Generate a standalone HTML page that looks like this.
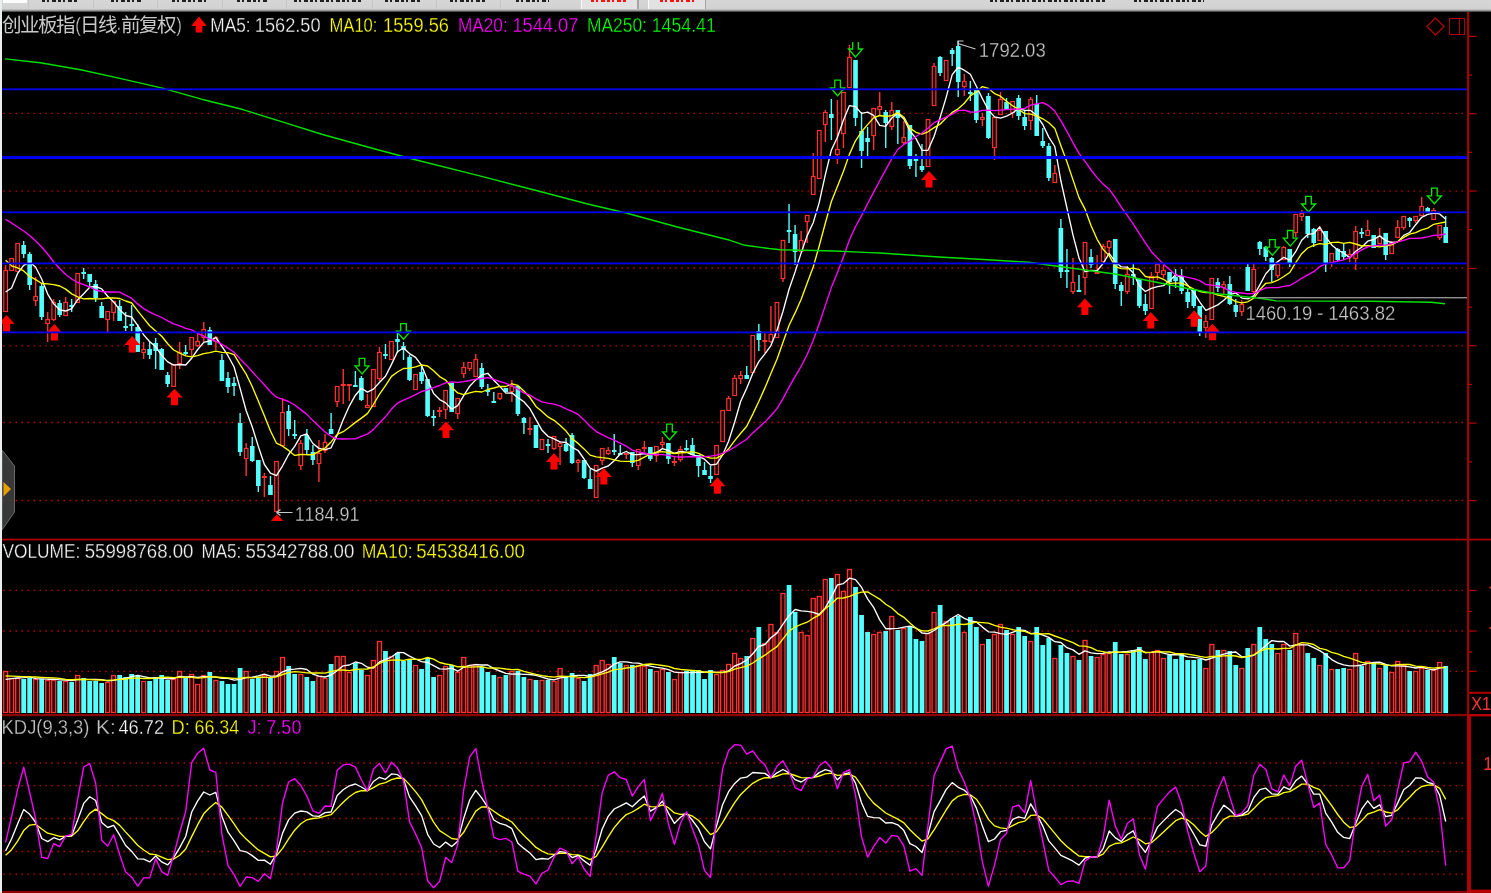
<!DOCTYPE html>
<html><head><meta charset="utf-8"><title>chart</title>
<style>html,body{margin:0;padding:0;background:#000;}
#wrap{position:relative;width:1491px;height:893px;overflow:hidden;background:#000;font-family:"Liberation Sans",sans-serif;}
#topbar{position:absolute;left:0;top:0;width:1491px;height:12.4px;background:linear-gradient(to bottom,#d6d6d6 0,#d2d2d2 9px,#808080 11px,#000 12.4px);}
#leftbar{position:absolute;left:0;top:0;width:2px;height:893px;background:#ebeeee;}
</style></head><body><div id="wrap">
<svg width="1491" height="893" viewBox="0 0 1491 893" style="position:absolute;left:0;top:0;filter:blur(0.35px)">
<rect x="0" y="0" width="1491" height="893" fill="#000"/>
<line x1="3.55" y1="113.4" x2="1466" y2="113.4" stroke="#dc0000" stroke-width="1.3" stroke-dasharray="1.3 4.7"/>
<line x1="3.55" y1="191.2" x2="1466" y2="191.2" stroke="#dc0000" stroke-width="1.3" stroke-dasharray="1.3 4.7"/>
<line x1="3.55" y1="268.0" x2="1466" y2="268.0" stroke="#dc0000" stroke-width="1.3" stroke-dasharray="1.3 4.7"/>
<line x1="3.55" y1="345.9" x2="1466" y2="345.9" stroke="#dc0000" stroke-width="1.3" stroke-dasharray="1.3 4.7"/>
<line x1="3.55" y1="422.5" x2="1466" y2="422.5" stroke="#dc0000" stroke-width="1.3" stroke-dasharray="1.3 4.7"/>
<line x1="3.55" y1="500.5" x2="1466" y2="500.5" stroke="#dc0000" stroke-width="1.3" stroke-dasharray="1.3 4.7"/>
<line x1="3.55" y1="590.4" x2="1466" y2="590.4" stroke="#dc0000" stroke-width="1.3" stroke-dasharray="1.3 4.7"/>
<line x1="3.55" y1="631" x2="1466" y2="631" stroke="#dc0000" stroke-width="1.3" stroke-dasharray="1.3 4.7"/>
<line x1="3.55" y1="671.3" x2="1466" y2="671.3" stroke="#dc0000" stroke-width="1.3" stroke-dasharray="1.3 4.7"/>
<line x1="3.55" y1="763" x2="1466" y2="763" stroke="#dc0000" stroke-width="1.3" stroke-dasharray="1.3 4.7"/>
<line x1="3.55" y1="785.6" x2="1466" y2="785.6" stroke="#dc0000" stroke-width="1.3" stroke-dasharray="1.3 4.7"/>
<line x1="3.55" y1="818.5" x2="1466" y2="818.5" stroke="#dc0000" stroke-width="1.3" stroke-dasharray="1.3 4.7"/>
<line x1="3.55" y1="851.5" x2="1466" y2="851.5" stroke="#dc0000" stroke-width="1.3" stroke-dasharray="1.3 4.7"/>
<line x1="3.55" y1="874.2" x2="1466" y2="874.2" stroke="#dc0000" stroke-width="1.3" stroke-dasharray="1.3 4.7"/>
<g>
<rect x="3.60" y="671.5" width="4" height="41" fill="#2a0707" stroke="#ff3232" stroke-width="1.3"/>
<rect x="9.63" y="678.5" width="4" height="34" fill="#2a0707" stroke="#ff3232" stroke-width="1.3"/>
<rect x="15.65" y="678.5" width="4" height="34" fill="#2a0707" stroke="#ff3232" stroke-width="1.3"/>
<rect x="21.30" y="679" width="4.76" height="34" fill="#54ffff"/>
<rect x="27.29" y="678" width="4.76" height="35" fill="#54ffff"/>
<rect x="33.67" y="679.5" width="4" height="33" fill="#2a0707" stroke="#ff3232" stroke-width="1.3"/>
<rect x="39.29" y="679" width="4.76" height="34" fill="#54ffff"/>
<rect x="45.67" y="680.5" width="4" height="32" fill="#2a0707" stroke="#ff3232" stroke-width="1.3"/>
<rect x="51.67" y="680.5" width="4" height="32" fill="#2a0707" stroke="#ff3232" stroke-width="1.3"/>
<rect x="57.29" y="681" width="4.76" height="32" fill="#54ffff"/>
<rect x="63.67" y="681.5" width="4" height="31" fill="#2a0707" stroke="#ff3232" stroke-width="1.3"/>
<rect x="69.29" y="682" width="4.76" height="31" fill="#54ffff"/>
<rect x="75.67" y="675.5" width="4" height="37" fill="#2a0707" stroke="#ff3232" stroke-width="1.3"/>
<rect x="81.29" y="678" width="4.76" height="35" fill="#54ffff"/>
<rect x="87.29" y="681" width="4.76" height="32" fill="#54ffff"/>
<rect x="93.29" y="681" width="4.76" height="32" fill="#54ffff"/>
<rect x="99.29" y="683" width="4.76" height="30" fill="#54ffff"/>
<rect x="105.66" y="682.5" width="4" height="30" fill="#2a0707" stroke="#ff3232" stroke-width="1.3"/>
<rect x="111.66" y="675.5" width="4" height="37" fill="#2a0707" stroke="#ff3232" stroke-width="1.3"/>
<rect x="117.28" y="675" width="4.76" height="38" fill="#54ffff"/>
<rect x="123.28" y="677" width="4.76" height="36" fill="#54ffff"/>
<rect x="129.28" y="674" width="4.76" height="39" fill="#54ffff"/>
<rect x="135.28" y="676" width="4.76" height="37" fill="#54ffff"/>
<rect x="141.66" y="681.5" width="4" height="31" fill="#2a0707" stroke="#ff3232" stroke-width="1.3"/>
<rect x="147.28" y="681" width="4.76" height="32" fill="#54ffff"/>
<rect x="153.28" y="677" width="4.76" height="36" fill="#54ffff"/>
<rect x="159.28" y="675" width="4.76" height="38" fill="#54ffff"/>
<rect x="165.28" y="680" width="4.76" height="33" fill="#54ffff"/>
<rect x="171.66" y="679.5" width="4" height="33" fill="#2a0707" stroke="#ff3232" stroke-width="1.3"/>
<rect x="177.66" y="671.5" width="4" height="41" fill="#2a0707" stroke="#ff3232" stroke-width="1.3"/>
<rect x="183.27" y="678" width="4.76" height="35" fill="#54ffff"/>
<rect x="189.65" y="674.5" width="4" height="38" fill="#2a0707" stroke="#ff3232" stroke-width="1.3"/>
<rect x="195.65" y="684.5" width="4" height="28" fill="#2a0707" stroke="#ff3232" stroke-width="1.3"/>
<rect x="201.72" y="675.5" width="4" height="37" fill="#2a0707" stroke="#ff3232" stroke-width="1.3"/>
<rect x="207.40" y="672" width="4.76" height="41" fill="#54ffff"/>
<rect x="213.85" y="680.5" width="4" height="32" fill="#2a0707" stroke="#ff3232" stroke-width="1.3"/>
<rect x="219.54" y="681" width="4.76" height="32" fill="#54ffff"/>
<rect x="225.60" y="684" width="4.76" height="29" fill="#54ffff"/>
<rect x="231.67" y="684" width="4.76" height="29" fill="#54ffff"/>
<rect x="237.73" y="668" width="4.76" height="45" fill="#54ffff"/>
<rect x="244.18" y="671.5" width="4" height="41" fill="#2a0707" stroke="#ff3232" stroke-width="1.3"/>
<rect x="249.86" y="679" width="4.76" height="34" fill="#54ffff"/>
<rect x="255.93" y="678" width="4.76" height="35" fill="#54ffff"/>
<rect x="262.37" y="675.5" width="4" height="37" fill="#2a0707" stroke="#ff3232" stroke-width="1.3"/>
<rect x="268.06" y="678" width="4.76" height="35" fill="#54ffff"/>
<rect x="274.50" y="671.5" width="4" height="41" fill="#2a0707" stroke="#ff3232" stroke-width="1.3"/>
<rect x="280.57" y="657.5" width="4" height="55" fill="#2a0707" stroke="#ff3232" stroke-width="1.3"/>
<rect x="286.26" y="666" width="4.76" height="47" fill="#54ffff"/>
<rect x="292.32" y="674" width="4.76" height="39" fill="#54ffff"/>
<rect x="298.77" y="674.5" width="4" height="38" fill="#2a0707" stroke="#ff3232" stroke-width="1.3"/>
<rect x="304.45" y="677" width="4.76" height="36" fill="#54ffff"/>
<rect x="310.52" y="681" width="4.76" height="32" fill="#54ffff"/>
<rect x="316.96" y="676.5" width="4" height="36" fill="#2a0707" stroke="#ff3232" stroke-width="1.3"/>
<rect x="323.03" y="678.5" width="4" height="34" fill="#2a0707" stroke="#ff3232" stroke-width="1.3"/>
<rect x="328.71" y="664" width="4.76" height="49" fill="#54ffff"/>
<rect x="335.16" y="656.5" width="4" height="56" fill="#2a0707" stroke="#ff3232" stroke-width="1.3"/>
<rect x="341.23" y="656.5" width="4" height="56" fill="#2a0707" stroke="#ff3232" stroke-width="1.3"/>
<rect x="347.29" y="672.5" width="4" height="40" fill="#2a0707" stroke="#ff3232" stroke-width="1.3"/>
<rect x="352.98" y="663" width="4.76" height="50" fill="#54ffff"/>
<rect x="359.00" y="670" width="4.76" height="43" fill="#54ffff"/>
<rect x="365.40" y="675.5" width="4" height="37" fill="#2a0707" stroke="#ff3232" stroke-width="1.3"/>
<rect x="371.42" y="660.5" width="4" height="52" fill="#2a0707" stroke="#ff3232" stroke-width="1.3"/>
<rect x="377.44" y="641.5" width="4" height="71" fill="#2a0707" stroke="#ff3232" stroke-width="1.3"/>
<rect x="383.08" y="651" width="4.76" height="62" fill="#54ffff"/>
<rect x="389.48" y="656.5" width="4" height="56" fill="#2a0707" stroke="#ff3232" stroke-width="1.3"/>
<rect x="395.12" y="653" width="4.76" height="60" fill="#54ffff"/>
<rect x="401.14" y="661" width="4.76" height="52" fill="#54ffff"/>
<rect x="407.16" y="659" width="4.76" height="54" fill="#54ffff"/>
<rect x="413.56" y="665.5" width="4" height="47" fill="#2a0707" stroke="#ff3232" stroke-width="1.3"/>
<rect x="419.20" y="669" width="4.76" height="44" fill="#54ffff"/>
<rect x="425.22" y="658" width="4.76" height="55" fill="#54ffff"/>
<rect x="431.24" y="677" width="4.76" height="36" fill="#54ffff"/>
<rect x="437.64" y="675.5" width="4" height="37" fill="#2a0707" stroke="#ff3232" stroke-width="1.3"/>
<rect x="443.66" y="666.5" width="4" height="46" fill="#2a0707" stroke="#ff3232" stroke-width="1.3"/>
<rect x="449.30" y="665" width="4.76" height="48" fill="#54ffff"/>
<rect x="455.70" y="672.5" width="4" height="40" fill="#2a0707" stroke="#ff3232" stroke-width="1.3"/>
<rect x="461.72" y="657.5" width="4" height="55" fill="#2a0707" stroke="#ff3232" stroke-width="1.3"/>
<rect x="467.74" y="665.5" width="4" height="47" fill="#2a0707" stroke="#ff3232" stroke-width="1.3"/>
<rect x="473.76" y="664.5" width="4" height="48" fill="#2a0707" stroke="#ff3232" stroke-width="1.3"/>
<rect x="479.40" y="667" width="4.76" height="46" fill="#54ffff"/>
<rect x="485.42" y="672" width="4.76" height="41" fill="#54ffff"/>
<rect x="491.44" y="675" width="4.76" height="38" fill="#54ffff"/>
<rect x="497.84" y="677.5" width="4" height="35" fill="#2a0707" stroke="#ff3232" stroke-width="1.3"/>
<rect x="503.48" y="675" width="4.76" height="38" fill="#54ffff"/>
<rect x="509.88" y="671.5" width="4" height="41" fill="#2a0707" stroke="#ff3232" stroke-width="1.3"/>
<rect x="515.52" y="671" width="4.76" height="42" fill="#54ffff"/>
<rect x="521.54" y="677" width="4.76" height="36" fill="#54ffff"/>
<rect x="527.94" y="679.5" width="4" height="33" fill="#2a0707" stroke="#ff3232" stroke-width="1.3"/>
<rect x="533.58" y="680" width="4.76" height="33" fill="#54ffff"/>
<rect x="539.98" y="680.5" width="4" height="32" fill="#2a0707" stroke="#ff3232" stroke-width="1.3"/>
<rect x="545.62" y="680" width="4.76" height="33" fill="#54ffff"/>
<rect x="552.02" y="681.5" width="4" height="31" fill="#2a0707" stroke="#ff3232" stroke-width="1.3"/>
<rect x="558.05" y="668.5" width="4" height="44" fill="#2a0707" stroke="#ff3232" stroke-width="1.3"/>
<rect x="563.69" y="677" width="4.76" height="36" fill="#54ffff"/>
<rect x="569.71" y="673" width="4.76" height="40" fill="#54ffff"/>
<rect x="576.11" y="678.5" width="4" height="34" fill="#2a0707" stroke="#ff3232" stroke-width="1.3"/>
<rect x="581.75" y="681" width="4.76" height="32" fill="#54ffff"/>
<rect x="587.77" y="674" width="4.76" height="39" fill="#54ffff"/>
<rect x="594.17" y="665.5" width="4" height="47" fill="#2a0707" stroke="#ff3232" stroke-width="1.3"/>
<rect x="600.19" y="660.5" width="4" height="52" fill="#2a0707" stroke="#ff3232" stroke-width="1.3"/>
<rect x="606.21" y="664.5" width="4" height="48" fill="#2a0707" stroke="#ff3232" stroke-width="1.3"/>
<rect x="611.85" y="657" width="4.76" height="56" fill="#54ffff"/>
<rect x="617.87" y="663" width="4.76" height="50" fill="#54ffff"/>
<rect x="624.27" y="665.5" width="4" height="47" fill="#2a0707" stroke="#ff3232" stroke-width="1.3"/>
<rect x="629.91" y="665" width="4.76" height="48" fill="#54ffff"/>
<rect x="636.31" y="665.5" width="4" height="47" fill="#2a0707" stroke="#ff3232" stroke-width="1.3"/>
<rect x="642.33" y="666.5" width="4" height="46" fill="#2a0707" stroke="#ff3232" stroke-width="1.3"/>
<rect x="647.97" y="669" width="4.76" height="44" fill="#54ffff"/>
<rect x="654.37" y="671.5" width="4" height="41" fill="#2a0707" stroke="#ff3232" stroke-width="1.3"/>
<rect x="660.39" y="669.5" width="4" height="43" fill="#2a0707" stroke="#ff3232" stroke-width="1.3"/>
<rect x="666.03" y="672" width="4.76" height="41" fill="#54ffff"/>
<rect x="672.43" y="679.5" width="4" height="33" fill="#2a0707" stroke="#ff3232" stroke-width="1.3"/>
<rect x="678.45" y="672.5" width="4" height="40" fill="#2a0707" stroke="#ff3232" stroke-width="1.3"/>
<rect x="684.09" y="671" width="4.76" height="42" fill="#54ffff"/>
<rect x="690.11" y="670" width="4.76" height="43" fill="#54ffff"/>
<rect x="696.13" y="670" width="4.76" height="43" fill="#54ffff"/>
<rect x="702.15" y="679" width="4.76" height="34" fill="#54ffff"/>
<rect x="708.17" y="670" width="4.76" height="43" fill="#54ffff"/>
<rect x="714.57" y="674.5" width="4" height="38" fill="#2a0707" stroke="#ff3232" stroke-width="1.3"/>
<rect x="720.59" y="670.5" width="4" height="42" fill="#2a0707" stroke="#ff3232" stroke-width="1.3"/>
<rect x="726.61" y="664.5" width="4" height="48" fill="#2a0707" stroke="#ff3232" stroke-width="1.3"/>
<rect x="732.66" y="653.5" width="4" height="59" fill="#2a0707" stroke="#ff3232" stroke-width="1.3"/>
<rect x="738.70" y="658.5" width="4" height="54" fill="#2a0707" stroke="#ff3232" stroke-width="1.3"/>
<rect x="744.36" y="656" width="4.76" height="57" fill="#54ffff"/>
<rect x="750.78" y="638.5" width="4" height="74" fill="#2a0707" stroke="#ff3232" stroke-width="1.3"/>
<rect x="756.45" y="627" width="4.76" height="86" fill="#54ffff"/>
<rect x="762.87" y="643.5" width="4" height="69" fill="#2a0707" stroke="#ff3232" stroke-width="1.3"/>
<rect x="768.91" y="624.5" width="4" height="88" fill="#2a0707" stroke="#ff3232" stroke-width="1.3"/>
<rect x="774.95" y="632.5" width="4" height="80" fill="#2a0707" stroke="#ff3232" stroke-width="1.3"/>
<rect x="781.00" y="593.5" width="4" height="119" fill="#2a0707" stroke="#ff3232" stroke-width="1.3"/>
<rect x="786.66" y="585" width="4.76" height="128" fill="#54ffff"/>
<rect x="792.70" y="612" width="4.76" height="101" fill="#54ffff"/>
<rect x="799.12" y="632.5" width="4" height="80" fill="#2a0707" stroke="#ff3232" stroke-width="1.3"/>
<rect x="805.17" y="635.5" width="4" height="77" fill="#2a0707" stroke="#ff3232" stroke-width="1.3"/>
<rect x="811.21" y="598.5" width="4" height="114" fill="#2a0707" stroke="#ff3232" stroke-width="1.3"/>
<rect x="817.25" y="596.5" width="4" height="116" fill="#2a0707" stroke="#ff3232" stroke-width="1.3"/>
<rect x="823.29" y="579.5" width="4" height="133" fill="#2a0707" stroke="#ff3232" stroke-width="1.3"/>
<rect x="828.96" y="578" width="4.76" height="135" fill="#54ffff"/>
<rect x="835.38" y="574.5" width="4" height="138" fill="#2a0707" stroke="#ff3232" stroke-width="1.3"/>
<rect x="841.42" y="591.5" width="4" height="121" fill="#2a0707" stroke="#ff3232" stroke-width="1.3"/>
<rect x="847.46" y="569.5" width="4" height="143" fill="#2a0707" stroke="#ff3232" stroke-width="1.3"/>
<rect x="853.13" y="587" width="4.76" height="126" fill="#54ffff"/>
<rect x="859.17" y="615" width="4.76" height="98" fill="#54ffff"/>
<rect x="865.21" y="632" width="4.76" height="81" fill="#54ffff"/>
<rect x="871.64" y="634.5" width="4" height="78" fill="#2a0707" stroke="#ff3232" stroke-width="1.3"/>
<rect x="877.68" y="632.5" width="4" height="80" fill="#2a0707" stroke="#ff3232" stroke-width="1.3"/>
<rect x="883.34" y="631" width="4.76" height="82" fill="#54ffff"/>
<rect x="889.76" y="616.5" width="4" height="96" fill="#2a0707" stroke="#ff3232" stroke-width="1.3"/>
<rect x="895.43" y="630" width="4.76" height="83" fill="#54ffff"/>
<rect x="901.85" y="628.5" width="4" height="84" fill="#2a0707" stroke="#ff3232" stroke-width="1.3"/>
<rect x="907.51" y="627" width="4.76" height="86" fill="#54ffff"/>
<rect x="913.55" y="639" width="4.76" height="74" fill="#54ffff"/>
<rect x="919.60" y="641" width="4.76" height="72" fill="#54ffff"/>
<rect x="926.02" y="633.5" width="4" height="79" fill="#2a0707" stroke="#ff3232" stroke-width="1.3"/>
<rect x="932.06" y="612.5" width="4" height="100" fill="#2a0707" stroke="#ff3232" stroke-width="1.3"/>
<rect x="937.72" y="605" width="4.76" height="108" fill="#54ffff"/>
<rect x="944.15" y="621.5" width="4" height="91" fill="#2a0707" stroke="#ff3232" stroke-width="1.3"/>
<rect x="949.81" y="618" width="4.76" height="95" fill="#54ffff"/>
<rect x="955.85" y="616" width="4.76" height="97" fill="#54ffff"/>
<rect x="962.27" y="632.5" width="4" height="80" fill="#2a0707" stroke="#ff3232" stroke-width="1.3"/>
<rect x="967.94" y="617" width="4.76" height="96" fill="#54ffff"/>
<rect x="973.97" y="627" width="4.76" height="86" fill="#54ffff"/>
<rect x="980.39" y="644.5" width="4" height="68" fill="#2a0707" stroke="#ff3232" stroke-width="1.3"/>
<rect x="986.05" y="639" width="4.76" height="74" fill="#54ffff"/>
<rect x="992.47" y="634.5" width="4" height="78" fill="#2a0707" stroke="#ff3232" stroke-width="1.3"/>
<rect x="998.50" y="624.5" width="4" height="88" fill="#2a0707" stroke="#ff3232" stroke-width="1.3"/>
<rect x="1004.16" y="630" width="4.76" height="83" fill="#54ffff"/>
<rect x="1010.58" y="634.5" width="4" height="78" fill="#2a0707" stroke="#ff3232" stroke-width="1.3"/>
<rect x="1016.24" y="627" width="4.76" height="86" fill="#54ffff"/>
<rect x="1022.28" y="636" width="4.76" height="77" fill="#54ffff"/>
<rect x="1028.69" y="641.5" width="4" height="71" fill="#2a0707" stroke="#ff3232" stroke-width="1.3"/>
<rect x="1034.35" y="627" width="4.76" height="86" fill="#54ffff"/>
<rect x="1040.39" y="645" width="4.76" height="68" fill="#54ffff"/>
<rect x="1046.43" y="638" width="4.76" height="75" fill="#54ffff"/>
<rect x="1052.84" y="658.5" width="4" height="54" fill="#2a0707" stroke="#ff3232" stroke-width="1.3"/>
<rect x="1058.50" y="645" width="4.76" height="68" fill="#54ffff"/>
<rect x="1064.54" y="653" width="4.76" height="60" fill="#54ffff"/>
<rect x="1070.96" y="656.5" width="4" height="56" fill="#2a0707" stroke="#ff3232" stroke-width="1.3"/>
<rect x="1076.61" y="660" width="4.76" height="53" fill="#54ffff"/>
<rect x="1083.03" y="640.5" width="4" height="72" fill="#2a0707" stroke="#ff3232" stroke-width="1.3"/>
<rect x="1088.69" y="656" width="4.76" height="57" fill="#54ffff"/>
<rect x="1095.11" y="657.5" width="4" height="55" fill="#2a0707" stroke="#ff3232" stroke-width="1.3"/>
<rect x="1101.14" y="654.5" width="4" height="58" fill="#2a0707" stroke="#ff3232" stroke-width="1.3"/>
<rect x="1107.18" y="653.5" width="4" height="59" fill="#2a0707" stroke="#ff3232" stroke-width="1.3"/>
<rect x="1112.84" y="642" width="4.76" height="71" fill="#54ffff"/>
<rect x="1118.88" y="654" width="4.76" height="59" fill="#54ffff"/>
<rect x="1125.29" y="654.5" width="4" height="58" fill="#2a0707" stroke="#ff3232" stroke-width="1.3"/>
<rect x="1130.95" y="650" width="4.76" height="63" fill="#54ffff"/>
<rect x="1136.99" y="647" width="4.76" height="66" fill="#54ffff"/>
<rect x="1143.03" y="659" width="4.76" height="54" fill="#54ffff"/>
<rect x="1149.44" y="652.5" width="4" height="60" fill="#2a0707" stroke="#ff3232" stroke-width="1.3"/>
<rect x="1155.48" y="650.5" width="4" height="62" fill="#2a0707" stroke="#ff3232" stroke-width="1.3"/>
<rect x="1161.52" y="658.5" width="4" height="54" fill="#2a0707" stroke="#ff3232" stroke-width="1.3"/>
<rect x="1167.18" y="655" width="4.76" height="58" fill="#54ffff"/>
<rect x="1173.22" y="659" width="4.76" height="54" fill="#54ffff"/>
<rect x="1179.25" y="654" width="4.76" height="59" fill="#54ffff"/>
<rect x="1185.29" y="660" width="4.76" height="53" fill="#54ffff"/>
<rect x="1191.33" y="660" width="4.76" height="53" fill="#54ffff"/>
<rect x="1197.37" y="659" width="4.76" height="54" fill="#54ffff"/>
<rect x="1203.78" y="668.5" width="4" height="44" fill="#2a0707" stroke="#ff3232" stroke-width="1.3"/>
<rect x="1209.82" y="644.5" width="4" height="68" fill="#2a0707" stroke="#ff3232" stroke-width="1.3"/>
<rect x="1215.44" y="650" width="4.76" height="63" fill="#54ffff"/>
<rect x="1221.81" y="650.5" width="4" height="62" fill="#2a0707" stroke="#ff3232" stroke-width="1.3"/>
<rect x="1227.42" y="651" width="4.76" height="62" fill="#54ffff"/>
<rect x="1233.42" y="665" width="4.76" height="48" fill="#54ffff"/>
<rect x="1239.79" y="668.5" width="4" height="44" fill="#2a0707" stroke="#ff3232" stroke-width="1.3"/>
<rect x="1245.41" y="648" width="4.76" height="65" fill="#54ffff"/>
<rect x="1251.78" y="644.5" width="4" height="68" fill="#2a0707" stroke="#ff3232" stroke-width="1.3"/>
<rect x="1257.40" y="627" width="4.76" height="86" fill="#54ffff"/>
<rect x="1263.39" y="639" width="4.76" height="74" fill="#54ffff"/>
<rect x="1269.38" y="644" width="4.76" height="69" fill="#54ffff"/>
<rect x="1275.76" y="653.5" width="4" height="59" fill="#2a0707" stroke="#ff3232" stroke-width="1.3"/>
<rect x="1281.75" y="644.5" width="4" height="68" fill="#2a0707" stroke="#ff3232" stroke-width="1.3"/>
<rect x="1287.37" y="650" width="4.76" height="63" fill="#54ffff"/>
<rect x="1293.74" y="633.5" width="4" height="79" fill="#2a0707" stroke="#ff3232" stroke-width="1.3"/>
<rect x="1299.74" y="644.5" width="4" height="68" fill="#2a0707" stroke="#ff3232" stroke-width="1.3"/>
<rect x="1305.35" y="653" width="4.76" height="60" fill="#54ffff"/>
<rect x="1311.34" y="658" width="4.76" height="55" fill="#54ffff"/>
<rect x="1317.72" y="665.5" width="4" height="47" fill="#2a0707" stroke="#ff3232" stroke-width="1.3"/>
<rect x="1323.33" y="653" width="4.76" height="60" fill="#54ffff"/>
<rect x="1329.71" y="669.5" width="4" height="43" fill="#2a0707" stroke="#ff3232" stroke-width="1.3"/>
<rect x="1335.32" y="669" width="4.76" height="44" fill="#54ffff"/>
<rect x="1341.32" y="668" width="4.76" height="45" fill="#54ffff"/>
<rect x="1347.69" y="669.5" width="4" height="43" fill="#2a0707" stroke="#ff3232" stroke-width="1.3"/>
<rect x="1353.68" y="653.5" width="4" height="59" fill="#2a0707" stroke="#ff3232" stroke-width="1.3"/>
<rect x="1359.30" y="666" width="4.76" height="47" fill="#54ffff"/>
<rect x="1365.67" y="661.5" width="4" height="51" fill="#2a0707" stroke="#ff3232" stroke-width="1.3"/>
<rect x="1371.30" y="663" width="4.76" height="50" fill="#54ffff"/>
<rect x="1377.68" y="668.5" width="4" height="44" fill="#2a0707" stroke="#ff3232" stroke-width="1.3"/>
<rect x="1383.30" y="665" width="4.76" height="48" fill="#54ffff"/>
<rect x="1389.68" y="672.5" width="4" height="40" fill="#2a0707" stroke="#ff3232" stroke-width="1.3"/>
<rect x="1395.68" y="661.5" width="4" height="51" fill="#2a0707" stroke="#ff3232" stroke-width="1.3"/>
<rect x="1401.69" y="665.5" width="4" height="47" fill="#2a0707" stroke="#ff3232" stroke-width="1.3"/>
<rect x="1407.31" y="671" width="4.76" height="42" fill="#54ffff"/>
<rect x="1413.69" y="671.5" width="4" height="41" fill="#2a0707" stroke="#ff3232" stroke-width="1.3"/>
<rect x="1419.69" y="668.5" width="4" height="44" fill="#2a0707" stroke="#ff3232" stroke-width="1.3"/>
<rect x="1425.31" y="670" width="4.76" height="43" fill="#54ffff"/>
<rect x="1431.70" y="670.5" width="4" height="42" fill="#2a0707" stroke="#ff3232" stroke-width="1.3"/>
<rect x="1437.70" y="662.5" width="4" height="50" fill="#2a0707" stroke="#ff3232" stroke-width="1.3"/>
<rect x="1443.32" y="666" width="4.76" height="47" fill="#54ffff"/>
</g>
<polyline points="5.6,679.4 11.6,678.7 17.6,678.0 23.7,677.6 29.7,676.9 35.7,678.6 41.7,678.8 47.7,679.2 53.7,679.2 59.7,679.8 65.7,680.0 71.7,680.6 77.7,679.7 83.7,679.4 89.7,679.4 95.7,679.5 101.7,679.6 107.7,680.9 113.7,680.3 119.7,679.2 125.7,678.4 131.7,676.6 137.7,675.4 143.7,676.6 149.7,677.8 155.7,677.8 161.7,678.0 167.7,678.9 173.7,678.5 179.7,676.5 185.7,676.8 191.7,676.6 197.7,677.4 203.7,676.6 209.8,676.8 215.8,677.1 221.9,678.4 228.0,678.4 234.1,680.2 240.1,679.3 246.2,677.6 252.2,677.2 258.3,675.9 264.4,674.1 270.4,676.1 276.5,676.1 282.6,671.8 288.6,669.5 294.7,669.2 300.8,668.4 306.8,669.5 312.9,674.2 319.0,676.1 325.0,677.0 331.1,675.0 337.2,670.8 343.2,665.8 349.3,665.0 355.4,662.0 361.4,663.3 367.4,667.2 373.4,668.1 379.4,662.0 385.5,659.7 391.5,657.0 397.5,652.5 403.5,652.6 409.5,656.2 415.6,659.0 421.6,661.6 427.6,662.5 433.6,665.7 439.6,668.8 445.7,669.1 451.7,668.2 457.7,671.2 463.7,667.3 469.7,665.3 475.8,664.7 481.8,665.0 487.8,665.0 493.8,668.6 499.8,671.0 505.9,673.4 511.9,674.2 517.9,673.9 523.9,674.3 529.9,674.5 536.0,675.4 542.0,677.2 548.0,679.0 554.0,679.8 560.0,677.8 566.1,677.2 572.1,675.8 578.1,675.3 584.1,675.3 590.1,676.5 596.2,674.2 602.2,671.8 608.2,668.9 614.2,664.2 620.2,661.8 626.3,661.8 632.3,662.8 638.3,663.1 644.3,664.8 650.4,666.2 656.4,667.3 662.4,668.2 668.4,669.6 674.4,672.1 680.5,672.6 686.5,672.6 692.5,672.7 698.5,672.2 704.5,672.2 710.5,671.8 716.6,672.3 722.6,672.3 728.6,671.0 734.7,666.0 740.7,663.6 746.7,660.0 752.8,653.7 758.8,646.5 764.9,644.5 770.9,637.8 777.0,633.1 783.0,624.1 789.0,615.7 795.1,609.5 801.1,610.9 807.2,611.4 813.2,612.3 819.2,614.5 825.3,607.9 831.3,597.2 837.4,584.9 843.4,583.6 849.5,578.2 855.5,579.7 861.5,587.2 867.6,598.9 873.6,607.3 879.7,619.9 885.7,628.7 891.8,628.7 897.8,628.3 903.9,627.2 909.9,626.2 915.9,628.0 922.0,633.0 928.0,633.7 934.1,630.5 940.1,626.2 946.1,622.6 952.2,618.0 958.2,614.5 964.3,618.4 970.3,620.8 976.4,621.9 982.4,627.1 988.4,631.8 994.5,632.2 1000.5,633.7 1006.5,634.4 1012.6,632.3 1018.6,629.9 1024.7,630.4 1030.7,633.6 1036.7,633.0 1042.8,635.2 1048.8,637.4 1054.8,641.7 1060.9,642.5 1066.9,647.7 1073.0,649.9 1079.0,654.3 1085.0,650.8 1091.1,652.8 1097.1,653.7 1103.1,653.3 1109.2,651.8 1115.2,652.4 1121.3,652.0 1127.3,651.4 1133.3,650.6 1139.4,649.4 1145.4,652.7 1151.4,652.3 1157.5,651.6 1163.5,653.1 1169.6,654.7 1175.6,654.7 1181.6,655.0 1187.7,656.9 1193.7,657.4 1199.8,658.2 1205.8,660.0 1211.8,658.1 1217.8,656.2 1223.8,654.2 1229.8,652.7 1235.8,652.0 1241.8,656.8 1247.8,656.5 1253.8,655.3 1259.8,650.4 1265.8,645.4 1271.8,640.6 1277.8,641.5 1283.8,641.5 1289.8,646.1 1295.7,644.9 1301.7,644.9 1307.7,644.9 1313.7,647.6 1319.7,650.6 1325.7,654.5 1331.7,659.6 1337.7,662.9 1343.7,664.9 1349.7,665.8 1355.7,665.8 1361.7,665.0 1367.7,663.3 1373.7,662.3 1379.7,662.1 1385.7,664.5 1391.7,665.8 1397.7,665.8 1403.7,666.2 1409.7,666.8 1415.7,668.0 1421.7,667.1 1427.7,668.9 1433.7,669.9 1439.7,668.1 1445.7,667.2" fill="none" stroke="#ffffff" stroke-width="1.35" stroke-linejoin="round" />
<polyline points="5.6,676.0 11.6,676.2 17.6,676.3 23.7,676.6 29.7,676.8 35.7,677.0 41.7,677.3 47.7,677.6 53.7,677.9 59.7,678.4 65.7,679.3 71.7,679.7 77.7,679.5 83.7,679.3 89.7,679.6 95.7,679.8 101.7,680.1 107.7,680.3 113.7,679.9 119.7,679.3 125.7,679.0 131.7,678.1 137.7,678.2 143.7,678.5 149.7,678.5 155.7,678.1 161.7,677.3 167.7,677.1 173.7,677.6 179.7,677.1 185.7,677.3 191.7,677.3 197.7,678.1 203.7,677.6 209.8,676.7 215.8,677.0 221.9,677.5 228.0,677.9 234.1,678.4 240.1,678.1 246.2,677.4 252.2,677.8 258.3,677.2 264.4,677.2 270.4,677.7 276.5,676.8 282.6,674.5 288.6,672.7 294.7,671.6 300.8,672.2 306.8,672.8 312.9,673.0 319.0,672.8 325.0,673.1 331.1,671.7 337.2,670.2 343.2,670.0 349.3,670.6 355.4,669.5 361.4,669.1 367.4,669.0 373.4,667.0 379.4,663.5 385.5,660.9 391.5,660.1 397.5,659.9 403.5,660.4 409.5,659.1 415.6,659.4 421.6,659.3 427.6,657.5 433.6,659.1 439.6,662.5 445.7,664.0 451.7,664.9 457.7,666.8 463.7,666.5 469.7,667.1 475.8,666.9 481.8,666.6 487.8,668.1 493.8,668.0 499.8,668.1 505.9,669.0 511.9,669.6 517.9,669.5 523.9,671.4 529.9,672.8 536.0,674.4 542.0,675.7 548.0,676.5 554.0,677.1 560.0,676.1 566.1,676.3 572.1,676.5 578.1,677.2 584.1,677.6 590.1,677.1 596.2,675.7 602.2,673.8 608.2,672.1 614.2,669.7 620.2,669.2 626.3,668.0 632.3,667.3 638.3,666.0 644.3,664.5 650.4,664.0 656.4,664.6 662.4,665.5 668.4,666.4 674.4,668.5 680.5,669.4 686.5,670.0 692.5,670.5 698.5,670.9 704.5,672.2 710.5,672.2 716.6,672.5 722.6,672.5 728.6,671.6 734.7,669.1 740.7,667.7 746.7,666.2 752.8,663.0 758.8,658.8 764.9,655.2 770.9,650.7 777.0,646.6 783.0,638.9 789.0,631.1 795.1,627.0 801.1,624.4 807.2,622.2 813.2,618.2 819.2,615.1 825.3,608.7 831.3,604.0 837.4,598.1 843.4,598.0 849.5,596.3 855.5,593.8 861.5,592.2 867.6,591.9 873.6,595.5 879.7,599.1 885.7,604.2 891.8,608.0 897.8,613.6 903.9,617.3 909.9,623.1 915.9,628.3 922.0,630.9 928.0,631.0 934.1,628.9 940.1,626.2 946.1,625.3 952.2,625.5 958.2,624.1 964.3,624.5 970.3,623.5 976.4,622.2 982.4,622.6 988.4,623.2 994.5,625.3 1000.5,627.2 1006.5,628.1 1012.6,629.7 1018.6,630.8 1024.7,631.3 1030.7,633.7 1036.7,633.7 1042.8,633.8 1048.8,633.6 1054.8,636.0 1060.9,638.1 1066.9,640.3 1073.0,642.6 1079.0,645.9 1085.0,646.2 1091.1,647.7 1097.1,650.7 1103.1,651.6 1109.2,653.1 1115.2,651.6 1121.3,652.4 1127.3,652.5 1133.3,651.9 1139.4,650.6 1145.4,652.5 1151.4,652.2 1157.5,651.5 1163.5,651.8 1169.6,652.0 1175.6,653.7 1181.6,653.7 1187.7,654.2 1193.7,655.2 1199.8,656.4 1205.8,657.4 1211.8,656.5 1217.8,656.5 1223.8,655.8 1229.8,655.5 1235.8,656.0 1241.8,657.5 1247.8,656.3 1253.8,654.8 1259.8,651.6 1265.8,648.7 1271.8,648.7 1277.8,649.0 1283.8,648.4 1289.8,648.3 1295.7,645.1 1301.7,642.7 1307.7,643.2 1313.7,644.5 1319.7,648.4 1325.7,649.7 1331.7,652.3 1337.7,653.9 1343.7,656.3 1349.7,658.2 1355.7,660.2 1361.7,662.3 1367.7,663.1 1373.7,663.6 1379.7,663.9 1385.7,665.1 1391.7,665.4 1397.7,664.6 1403.7,664.3 1409.7,664.5 1415.7,666.2 1421.7,666.5 1427.7,667.4 1433.7,668.1 1439.7,667.5 1445.7,667.6" fill="none" stroke="#ffff00" stroke-width="1.35" stroke-linejoin="round" />
<g>
<rect x="4.90" y="265" width="1.4" height="5" fill="#ff3232"/>
<rect x="3.80" y="270.5" width="3.6" height="41" fill="#0c0000" stroke="#ff3232" stroke-width="1.2"/>
<rect x="9.83" y="258.5" width="3.6" height="12" fill="#0c0000" stroke="#ff3232" stroke-width="1.2"/>
<rect x="15.85" y="243.5" width="3.6" height="28" fill="#0c0000" stroke="#ff3232" stroke-width="1.2"/>
<rect x="22.98" y="241" width="1.4" height="17" fill="#54ffff"/>
<rect x="21.38" y="245" width="4.6" height="9" fill="#54ffff"/>
<rect x="28.97" y="252" width="1.4" height="38" fill="#54ffff"/>
<rect x="27.37" y="254" width="4.6" height="31" fill="#54ffff"/>
<rect x="34.97" y="277" width="1.4" height="19" fill="#ff3232"/>
<rect x="34.97" y="301" width="1.4" height="5" fill="#ff3232"/>
<rect x="33.87" y="296.5" width="3.6" height="4" fill="#0c0000" stroke="#ff3232" stroke-width="1.2"/>
<rect x="40.97" y="283" width="1.4" height="37" fill="#54ffff"/>
<rect x="39.37" y="286" width="4.6" height="31" fill="#54ffff"/>
<rect x="46.97" y="312" width="1.4" height="7" fill="#ff3232"/>
<rect x="46.97" y="324" width="1.4" height="18" fill="#ff3232"/>
<rect x="45.87" y="319.5" width="3.6" height="4" fill="#0c0000" stroke="#ff3232" stroke-width="1.2"/>
<rect x="52.97" y="299" width="1.4" height="3" fill="#ff3232"/>
<rect x="52.97" y="320" width="1.4" height="1" fill="#ff3232"/>
<rect x="51.87" y="302.5" width="3.6" height="17" fill="#0c0000" stroke="#ff3232" stroke-width="1.2"/>
<rect x="58.97" y="300" width="1.4" height="17" fill="#54ffff"/>
<rect x="57.37" y="303" width="4.6" height="12" fill="#54ffff"/>
<rect x="64.97" y="297" width="1.4" height="5" fill="#ff3232"/>
<rect x="63.87" y="302.5" width="3.6" height="13" fill="#0c0000" stroke="#ff3232" stroke-width="1.2"/>
<rect x="70.97" y="299" width="1.4" height="13" fill="#54ffff"/>
<rect x="69.37" y="305" width="4.6" height="2" fill="#54ffff"/>
<rect x="75.87" y="273.5" width="3.6" height="29" fill="#0c0000" stroke="#ff3232" stroke-width="1.2"/>
<rect x="82.97" y="268" width="1.4" height="11" fill="#54ffff"/>
<rect x="81.37" y="272" width="4.6" height="2" fill="#54ffff"/>
<rect x="88.97" y="274" width="1.4" height="12" fill="#54ffff"/>
<rect x="87.37" y="274" width="4.6" height="8" fill="#54ffff"/>
<rect x="94.97" y="280" width="1.4" height="22" fill="#54ffff"/>
<rect x="93.37" y="284" width="4.6" height="14" fill="#54ffff"/>
<rect x="100.97" y="302" width="1.4" height="16" fill="#54ffff"/>
<rect x="99.37" y="306" width="4.6" height="12" fill="#54ffff"/>
<rect x="106.96" y="320" width="1.4" height="12" fill="#ff3232"/>
<rect x="105.86" y="311.5" width="3.6" height="8" fill="#0c0000" stroke="#ff3232" stroke-width="1.2"/>
<rect x="112.96" y="313" width="1.4" height="8" fill="#ff3232"/>
<rect x="111.86" y="301.5" width="3.6" height="11" fill="#0c0000" stroke="#ff3232" stroke-width="1.2"/>
<rect x="118.96" y="300" width="1.4" height="21" fill="#54ffff"/>
<rect x="117.36" y="306" width="4.6" height="15" fill="#54ffff"/>
<rect x="124.96" y="312" width="1.4" height="19" fill="#54ffff"/>
<rect x="123.36" y="326" width="4.6" height="2" fill="#54ffff"/>
<rect x="130.96" y="305" width="1.4" height="26" fill="#54ffff"/>
<rect x="129.36" y="324" width="4.6" height="2" fill="#54ffff"/>
<rect x="136.96" y="324" width="1.4" height="28" fill="#54ffff"/>
<rect x="135.36" y="327" width="4.6" height="25" fill="#54ffff"/>
<rect x="142.96" y="342" width="1.4" height="7" fill="#ff3232"/>
<rect x="142.96" y="353" width="1.4" height="6" fill="#ff3232"/>
<rect x="141.86" y="349.5" width="3.6" height="3" fill="#0c0000" stroke="#ff3232" stroke-width="1.2"/>
<rect x="148.96" y="341" width="1.4" height="18" fill="#54ffff"/>
<rect x="147.36" y="349" width="4.6" height="6" fill="#54ffff"/>
<rect x="154.96" y="338" width="1.4" height="31" fill="#54ffff"/>
<rect x="153.36" y="343" width="4.6" height="8" fill="#54ffff"/>
<rect x="160.96" y="348" width="1.4" height="22" fill="#54ffff"/>
<rect x="159.36" y="349" width="4.6" height="21" fill="#54ffff"/>
<rect x="166.96" y="372" width="1.4" height="15" fill="#54ffff"/>
<rect x="165.36" y="375" width="4.6" height="9" fill="#54ffff"/>
<rect x="171.86" y="364.5" width="3.6" height="22" fill="#0c0000" stroke="#ff3232" stroke-width="1.2"/>
<rect x="178.96" y="342" width="1.4" height="10" fill="#ff3232"/>
<rect x="178.96" y="364" width="1.4" height="5" fill="#ff3232"/>
<rect x="177.86" y="352.5" width="3.6" height="11" fill="#0c0000" stroke="#ff3232" stroke-width="1.2"/>
<rect x="184.95" y="345" width="1.4" height="10" fill="#54ffff"/>
<rect x="183.35" y="352" width="4.6" height="2" fill="#54ffff"/>
<rect x="190.95" y="350" width="1.4" height="6" fill="#ff3232"/>
<rect x="189.85" y="337.5" width="3.6" height="12" fill="#0c0000" stroke="#ff3232" stroke-width="1.2"/>
<rect x="196.95" y="333" width="1.4" height="8" fill="#ff3232"/>
<rect x="196.95" y="346" width="1.4" height="1" fill="#ff3232"/>
<rect x="195.85" y="341.5" width="3.6" height="4" fill="#0c0000" stroke="#ff3232" stroke-width="1.2"/>
<rect x="203.02" y="322" width="1.4" height="7" fill="#ff3232"/>
<rect x="203.02" y="338" width="1.4" height="4" fill="#ff3232"/>
<rect x="201.92" y="329.5" width="3.6" height="8" fill="#0c0000" stroke="#ff3232" stroke-width="1.2"/>
<rect x="209.08" y="327" width="1.4" height="18" fill="#54ffff"/>
<rect x="207.48" y="330" width="4.6" height="15" fill="#54ffff"/>
<rect x="215.15" y="336" width="1.4" height="1" fill="#ff3232"/>
<rect x="215.15" y="342" width="1.4" height="8" fill="#ff3232"/>
<rect x="214.05" y="337.5" width="3.6" height="4" fill="#0c0000" stroke="#ff3232" stroke-width="1.2"/>
<rect x="221.22" y="354" width="1.4" height="27" fill="#54ffff"/>
<rect x="219.62" y="360" width="4.6" height="21" fill="#54ffff"/>
<rect x="227.28" y="372" width="1.4" height="21" fill="#54ffff"/>
<rect x="225.68" y="378" width="4.6" height="9" fill="#54ffff"/>
<rect x="233.35" y="377" width="1.4" height="19" fill="#54ffff"/>
<rect x="231.75" y="383" width="4.6" height="3" fill="#54ffff"/>
<rect x="239.41" y="413" width="1.4" height="43" fill="#54ffff"/>
<rect x="237.81" y="423" width="4.6" height="29" fill="#54ffff"/>
<rect x="245.48" y="443" width="1.4" height="5" fill="#ff3232"/>
<rect x="245.48" y="459" width="1.4" height="17" fill="#ff3232"/>
<rect x="244.38" y="448.5" width="3.6" height="10" fill="#0c0000" stroke="#ff3232" stroke-width="1.2"/>
<rect x="251.54" y="437" width="1.4" height="25" fill="#54ffff"/>
<rect x="249.94" y="446" width="4.6" height="15" fill="#54ffff"/>
<rect x="257.61" y="460" width="1.4" height="32" fill="#54ffff"/>
<rect x="256.01" y="460" width="4.6" height="26" fill="#54ffff"/>
<rect x="263.67" y="473" width="1.4" height="24" fill="#ff3232"/>
<rect x="261.87" y="476" width="5" height="2" fill="#ff3232"/>
<rect x="269.74" y="476" width="1.4" height="19" fill="#54ffff"/>
<rect x="268.14" y="485" width="4.6" height="10" fill="#54ffff"/>
<rect x="274.70" y="461.5" width="3.6" height="50" fill="#0c0000" stroke="#ff3232" stroke-width="1.2"/>
<rect x="281.87" y="398" width="1.4" height="14" fill="#ff3232"/>
<rect x="280.77" y="412.5" width="3.6" height="33" fill="#0c0000" stroke="#ff3232" stroke-width="1.2"/>
<rect x="287.94" y="405" width="1.4" height="31" fill="#54ffff"/>
<rect x="286.34" y="411" width="4.6" height="18" fill="#54ffff"/>
<rect x="294.00" y="420" width="1.4" height="19" fill="#54ffff"/>
<rect x="292.40" y="434" width="4.6" height="2" fill="#54ffff"/>
<rect x="300.07" y="440" width="1.4" height="3" fill="#ff3232"/>
<rect x="300.07" y="466" width="1.4" height="4" fill="#ff3232"/>
<rect x="298.97" y="443.5" width="3.6" height="22" fill="#0c0000" stroke="#ff3232" stroke-width="1.2"/>
<rect x="306.13" y="429" width="1.4" height="25" fill="#54ffff"/>
<rect x="304.53" y="435" width="4.6" height="15" fill="#54ffff"/>
<rect x="312.20" y="445" width="1.4" height="20" fill="#54ffff"/>
<rect x="310.60" y="452" width="4.6" height="8" fill="#54ffff"/>
<rect x="318.26" y="440" width="1.4" height="13" fill="#ff3232"/>
<rect x="318.26" y="464" width="1.4" height="18" fill="#ff3232"/>
<rect x="317.16" y="453.5" width="3.6" height="10" fill="#0c0000" stroke="#ff3232" stroke-width="1.2"/>
<rect x="324.33" y="434" width="1.4" height="8" fill="#ff3232"/>
<rect x="324.33" y="451" width="1.4" height="2" fill="#ff3232"/>
<rect x="323.23" y="442.5" width="3.6" height="8" fill="#0c0000" stroke="#ff3232" stroke-width="1.2"/>
<rect x="330.39" y="413" width="1.4" height="21" fill="#54ffff"/>
<rect x="328.79" y="429" width="4.6" height="5" fill="#54ffff"/>
<rect x="336.46" y="402" width="1.4" height="5" fill="#ff3232"/>
<rect x="335.36" y="386.5" width="3.6" height="15" fill="#0c0000" stroke="#ff3232" stroke-width="1.2"/>
<rect x="342.53" y="369" width="1.4" height="35" fill="#ff3232"/>
<rect x="340.73" y="384" width="5" height="2" fill="#ff3232"/>
<rect x="348.59" y="384" width="1.4" height="17" fill="#ff3232"/>
<rect x="346.79" y="384" width="5" height="2" fill="#ff3232"/>
<rect x="354.66" y="371" width="1.4" height="16" fill="#54ffff"/>
<rect x="353.06" y="385" width="4.6" height="2" fill="#54ffff"/>
<rect x="360.68" y="376" width="1.4" height="25" fill="#54ffff"/>
<rect x="359.08" y="378" width="4.6" height="22" fill="#54ffff"/>
<rect x="366.70" y="394" width="1.4" height="11" fill="#ff3232"/>
<rect x="365.60" y="405.5" width="3.6" height="2" fill="#0c0000" stroke="#ff3232" stroke-width="1.2"/>
<rect x="371.62" y="369.5" width="3.6" height="37" fill="#0c0000" stroke="#ff3232" stroke-width="1.2"/>
<rect x="378.74" y="347" width="1.4" height="5" fill="#ff3232"/>
<rect x="378.74" y="379" width="1.4" height="2" fill="#ff3232"/>
<rect x="377.64" y="352.5" width="3.6" height="26" fill="#0c0000" stroke="#ff3232" stroke-width="1.2"/>
<rect x="384.76" y="344" width="1.4" height="15" fill="#54ffff"/>
<rect x="383.16" y="354" width="4.6" height="2" fill="#54ffff"/>
<rect x="389.68" y="341.5" width="3.6" height="18" fill="#0c0000" stroke="#ff3232" stroke-width="1.2"/>
<rect x="396.80" y="333" width="1.4" height="20" fill="#54ffff"/>
<rect x="395.20" y="339" width="4.6" height="3" fill="#54ffff"/>
<rect x="402.82" y="342" width="1.4" height="18" fill="#54ffff"/>
<rect x="401.22" y="346" width="4.6" height="4" fill="#54ffff"/>
<rect x="408.84" y="355" width="1.4" height="26" fill="#54ffff"/>
<rect x="407.24" y="357" width="4.6" height="23" fill="#54ffff"/>
<rect x="413.76" y="374.5" width="3.6" height="15" fill="#0c0000" stroke="#ff3232" stroke-width="1.2"/>
<rect x="420.88" y="366" width="1.4" height="18" fill="#54ffff"/>
<rect x="419.28" y="372" width="4.6" height="9" fill="#54ffff"/>
<rect x="426.90" y="379" width="1.4" height="38" fill="#54ffff"/>
<rect x="425.30" y="379" width="4.6" height="37" fill="#54ffff"/>
<rect x="432.92" y="410" width="1.4" height="16" fill="#54ffff"/>
<rect x="431.32" y="416" width="4.6" height="2" fill="#54ffff"/>
<rect x="438.94" y="407" width="1.4" height="10" fill="#ff3232"/>
<rect x="437.14" y="410" width="5" height="2" fill="#ff3232"/>
<rect x="444.96" y="410" width="1.4" height="9" fill="#ff3232"/>
<rect x="443.86" y="390.5" width="3.6" height="19" fill="#0c0000" stroke="#ff3232" stroke-width="1.2"/>
<rect x="450.98" y="383" width="1.4" height="29" fill="#54ffff"/>
<rect x="449.38" y="383" width="4.6" height="29" fill="#54ffff"/>
<rect x="457.00" y="414" width="1.4" height="5" fill="#ff3232"/>
<rect x="455.90" y="398.5" width="3.6" height="15" fill="#0c0000" stroke="#ff3232" stroke-width="1.2"/>
<rect x="463.02" y="362" width="1.4" height="5" fill="#ff3232"/>
<rect x="463.02" y="374" width="1.4" height="4" fill="#ff3232"/>
<rect x="461.92" y="367.5" width="3.6" height="6" fill="#0c0000" stroke="#ff3232" stroke-width="1.2"/>
<rect x="469.04" y="369" width="1.4" height="2" fill="#ff3232"/>
<rect x="467.94" y="362.5" width="3.6" height="6" fill="#0c0000" stroke="#ff3232" stroke-width="1.2"/>
<rect x="475.06" y="354" width="1.4" height="5" fill="#ff3232"/>
<rect x="473.96" y="359.5" width="3.6" height="17" fill="#0c0000" stroke="#ff3232" stroke-width="1.2"/>
<rect x="481.08" y="363" width="1.4" height="26" fill="#54ffff"/>
<rect x="479.48" y="368" width="4.6" height="19" fill="#54ffff"/>
<rect x="487.10" y="384" width="1.4" height="12" fill="#54ffff"/>
<rect x="485.50" y="390" width="4.6" height="2" fill="#54ffff"/>
<rect x="493.12" y="392" width="1.4" height="10" fill="#54ffff"/>
<rect x="491.52" y="401" width="4.6" height="2" fill="#54ffff"/>
<rect x="499.14" y="399" width="1.4" height="1" fill="#ff3232"/>
<rect x="498.04" y="393.5" width="3.6" height="5" fill="#0c0000" stroke="#ff3232" stroke-width="1.2"/>
<rect x="505.16" y="388" width="1.4" height="4" fill="#54ffff"/>
<rect x="503.56" y="388" width="4.6" height="4" fill="#54ffff"/>
<rect x="511.18" y="380" width="1.4" height="6" fill="#ff3232"/>
<rect x="511.18" y="392" width="1.4" height="10" fill="#ff3232"/>
<rect x="510.08" y="386.5" width="3.6" height="5" fill="#0c0000" stroke="#ff3232" stroke-width="1.2"/>
<rect x="517.20" y="386" width="1.4" height="30" fill="#54ffff"/>
<rect x="515.60" y="386" width="4.6" height="28" fill="#54ffff"/>
<rect x="523.22" y="417" width="1.4" height="17" fill="#54ffff"/>
<rect x="521.62" y="418" width="4.6" height="5" fill="#54ffff"/>
<rect x="529.24" y="417" width="1.4" height="18" fill="#ff3232"/>
<rect x="527.44" y="428" width="5" height="2" fill="#ff3232"/>
<rect x="535.26" y="425" width="1.4" height="23" fill="#54ffff"/>
<rect x="533.66" y="425" width="4.6" height="23" fill="#54ffff"/>
<rect x="540.18" y="439.5" width="3.6" height="10" fill="#0c0000" stroke="#ff3232" stroke-width="1.2"/>
<rect x="547.30" y="439" width="1.4" height="14" fill="#54ffff"/>
<rect x="545.70" y="444" width="4.6" height="2" fill="#54ffff"/>
<rect x="553.32" y="449" width="1.4" height="1" fill="#ff3232"/>
<rect x="552.22" y="436.5" width="3.6" height="12" fill="#0c0000" stroke="#ff3232" stroke-width="1.2"/>
<rect x="559.35" y="441" width="1.4" height="2" fill="#ff3232"/>
<rect x="559.35" y="447" width="1.4" height="18" fill="#ff3232"/>
<rect x="558.25" y="443.5" width="3.6" height="3" fill="#0c0000" stroke="#ff3232" stroke-width="1.2"/>
<rect x="565.37" y="438" width="1.4" height="14" fill="#54ffff"/>
<rect x="563.77" y="444" width="4.6" height="7" fill="#54ffff"/>
<rect x="571.39" y="433" width="1.4" height="31" fill="#54ffff"/>
<rect x="569.79" y="435" width="4.6" height="28" fill="#54ffff"/>
<rect x="577.41" y="459" width="1.4" height="1" fill="#ff3232"/>
<rect x="577.41" y="463" width="1.4" height="9" fill="#ff3232"/>
<rect x="576.31" y="460.5" width="3.6" height="2" fill="#0c0000" stroke="#ff3232" stroke-width="1.2"/>
<rect x="583.43" y="460" width="1.4" height="19" fill="#54ffff"/>
<rect x="581.83" y="460" width="4.6" height="18" fill="#54ffff"/>
<rect x="589.45" y="469" width="1.4" height="20" fill="#54ffff"/>
<rect x="587.85" y="479" width="4.6" height="10" fill="#54ffff"/>
<rect x="594.37" y="465.5" width="3.6" height="32" fill="#0c0000" stroke="#ff3232" stroke-width="1.2"/>
<rect x="601.49" y="461" width="1.4" height="4" fill="#ff3232"/>
<rect x="600.39" y="448.5" width="3.6" height="12" fill="#0c0000" stroke="#ff3232" stroke-width="1.2"/>
<rect x="607.51" y="447" width="1.4" height="3" fill="#ff3232"/>
<rect x="607.51" y="454" width="1.4" height="1" fill="#ff3232"/>
<rect x="606.41" y="450.5" width="3.6" height="3" fill="#0c0000" stroke="#ff3232" stroke-width="1.2"/>
<rect x="613.53" y="434" width="1.4" height="21" fill="#54ffff"/>
<rect x="611.93" y="450" width="4.6" height="2" fill="#54ffff"/>
<rect x="619.55" y="445" width="1.4" height="10" fill="#54ffff"/>
<rect x="617.95" y="453" width="4.6" height="2" fill="#54ffff"/>
<rect x="625.57" y="453" width="1.4" height="6" fill="#ff3232"/>
<rect x="623.77" y="453" width="5" height="2" fill="#ff3232"/>
<rect x="631.59" y="452" width="1.4" height="15" fill="#54ffff"/>
<rect x="629.99" y="452" width="4.6" height="11" fill="#54ffff"/>
<rect x="637.61" y="466" width="1.4" height="4" fill="#ff3232"/>
<rect x="636.51" y="449.5" width="3.6" height="16" fill="#0c0000" stroke="#ff3232" stroke-width="1.2"/>
<rect x="643.63" y="441" width="1.4" height="11" fill="#ff3232"/>
<rect x="641.83" y="447" width="5" height="2" fill="#ff3232"/>
<rect x="649.65" y="447" width="1.4" height="14" fill="#54ffff"/>
<rect x="648.05" y="447" width="4.6" height="12" fill="#54ffff"/>
<rect x="655.67" y="456" width="1.4" height="6" fill="#ff3232"/>
<rect x="654.57" y="446.5" width="3.6" height="9" fill="#0c0000" stroke="#ff3232" stroke-width="1.2"/>
<rect x="661.69" y="437" width="1.4" height="5" fill="#ff3232"/>
<rect x="661.69" y="445" width="1.4" height="3" fill="#ff3232"/>
<rect x="660.59" y="442.5" width="3.6" height="2" fill="#0c0000" stroke="#ff3232" stroke-width="1.2"/>
<rect x="667.71" y="443" width="1.4" height="21" fill="#54ffff"/>
<rect x="666.11" y="443" width="4.6" height="16" fill="#54ffff"/>
<rect x="673.73" y="457" width="1.4" height="9" fill="#ff3232"/>
<rect x="671.93" y="461" width="5" height="2" fill="#ff3232"/>
<rect x="679.75" y="446" width="1.4" height="3" fill="#ff3232"/>
<rect x="679.75" y="460" width="1.4" height="2" fill="#ff3232"/>
<rect x="678.65" y="449.5" width="3.6" height="10" fill="#0c0000" stroke="#ff3232" stroke-width="1.2"/>
<rect x="685.77" y="440" width="1.4" height="11" fill="#54ffff"/>
<rect x="684.17" y="448" width="4.6" height="2" fill="#54ffff"/>
<rect x="691.79" y="438" width="1.4" height="17" fill="#54ffff"/>
<rect x="690.19" y="445" width="4.6" height="10" fill="#54ffff"/>
<rect x="697.81" y="455" width="1.4" height="22" fill="#54ffff"/>
<rect x="696.21" y="455" width="4.6" height="11" fill="#54ffff"/>
<rect x="703.83" y="462" width="1.4" height="13" fill="#54ffff"/>
<rect x="702.23" y="470" width="4.6" height="5" fill="#54ffff"/>
<rect x="709.85" y="466" width="1.4" height="17" fill="#54ffff"/>
<rect x="708.25" y="476" width="4.6" height="3" fill="#54ffff"/>
<rect x="714.77" y="445.5" width="3.6" height="29" fill="#0c0000" stroke="#ff3232" stroke-width="1.2"/>
<rect x="720.79" y="410.5" width="3.6" height="31" fill="#0c0000" stroke="#ff3232" stroke-width="1.2"/>
<rect x="727.91" y="396" width="1.4" height="2" fill="#ff3232"/>
<rect x="726.81" y="398.5" width="3.6" height="12" fill="#0c0000" stroke="#ff3232" stroke-width="1.2"/>
<rect x="733.96" y="375" width="1.4" height="3" fill="#ff3232"/>
<rect x="732.86" y="378.5" width="3.6" height="17" fill="#0c0000" stroke="#ff3232" stroke-width="1.2"/>
<rect x="740.00" y="371" width="1.4" height="4" fill="#ff3232"/>
<rect x="740.00" y="379" width="1.4" height="5" fill="#ff3232"/>
<rect x="738.90" y="375.5" width="3.6" height="3" fill="#0c0000" stroke="#ff3232" stroke-width="1.2"/>
<rect x="746.04" y="366" width="1.4" height="13" fill="#54ffff"/>
<rect x="744.44" y="375" width="4.6" height="4" fill="#54ffff"/>
<rect x="750.98" y="335.5" width="3.6" height="37" fill="#0c0000" stroke="#ff3232" stroke-width="1.2"/>
<rect x="758.13" y="324" width="1.4" height="27" fill="#54ffff"/>
<rect x="756.53" y="331" width="4.6" height="9" fill="#54ffff"/>
<rect x="764.17" y="333" width="1.4" height="20" fill="#ff3232"/>
<rect x="762.37" y="340" width="5" height="2" fill="#ff3232"/>
<rect x="770.21" y="306" width="1.4" height="28" fill="#ff3232"/>
<rect x="770.21" y="342" width="1.4" height="1" fill="#ff3232"/>
<rect x="769.11" y="334.5" width="3.6" height="7" fill="#0c0000" stroke="#ff3232" stroke-width="1.2"/>
<rect x="775.15" y="302.5" width="3.6" height="35" fill="#0c0000" stroke="#ff3232" stroke-width="1.2"/>
<rect x="782.30" y="279" width="1.4" height="3" fill="#ff3232"/>
<rect x="781.20" y="240.5" width="3.6" height="38" fill="#0c0000" stroke="#ff3232" stroke-width="1.2"/>
<rect x="788.34" y="204" width="1.4" height="39" fill="#54ffff"/>
<rect x="786.74" y="230" width="4.6" height="2" fill="#54ffff"/>
<rect x="794.38" y="225" width="1.4" height="40" fill="#54ffff"/>
<rect x="792.78" y="234" width="4.6" height="18" fill="#54ffff"/>
<rect x="800.42" y="231" width="1.4" height="9" fill="#ff3232"/>
<rect x="799.32" y="240.5" width="3.6" height="11" fill="#0c0000" stroke="#ff3232" stroke-width="1.2"/>
<rect x="806.47" y="222" width="1.4" height="21" fill="#ff3232"/>
<rect x="805.37" y="215.5" width="3.6" height="6" fill="#0c0000" stroke="#ff3232" stroke-width="1.2"/>
<rect x="812.51" y="153" width="1.4" height="23" fill="#ff3232"/>
<rect x="811.41" y="176.5" width="3.6" height="18" fill="#0c0000" stroke="#ff3232" stroke-width="1.2"/>
<rect x="817.45" y="130.5" width="3.6" height="48" fill="#0c0000" stroke="#ff3232" stroke-width="1.2"/>
<rect x="824.59" y="110" width="1.4" height="2" fill="#ff3232"/>
<rect x="824.59" y="125" width="1.4" height="17" fill="#ff3232"/>
<rect x="823.49" y="112.5" width="3.6" height="12" fill="#0c0000" stroke="#ff3232" stroke-width="1.2"/>
<rect x="830.64" y="99" width="1.4" height="41" fill="#54ffff"/>
<rect x="829.04" y="114" width="4.6" height="4" fill="#54ffff"/>
<rect x="836.68" y="100" width="1.4" height="49" fill="#ff3232"/>
<rect x="836.68" y="155" width="1.4" height="9" fill="#ff3232"/>
<rect x="835.58" y="149.5" width="3.6" height="5" fill="#0c0000" stroke="#ff3232" stroke-width="1.2"/>
<rect x="842.72" y="134" width="1.4" height="14" fill="#ff3232"/>
<rect x="841.62" y="92.5" width="3.6" height="41" fill="#0c0000" stroke="#ff3232" stroke-width="1.2"/>
<rect x="848.76" y="45" width="1.4" height="12" fill="#ff3232"/>
<rect x="847.66" y="57.5" width="3.6" height="30" fill="#0c0000" stroke="#ff3232" stroke-width="1.2"/>
<rect x="854.81" y="60" width="1.4" height="66" fill="#54ffff"/>
<rect x="853.21" y="60" width="4.6" height="58" fill="#54ffff"/>
<rect x="860.85" y="112" width="1.4" height="56" fill="#54ffff"/>
<rect x="859.25" y="131" width="4.6" height="20" fill="#54ffff"/>
<rect x="866.89" y="127" width="1.4" height="29" fill="#54ffff"/>
<rect x="865.29" y="138" width="4.6" height="4" fill="#54ffff"/>
<rect x="872.94" y="136" width="1.4" height="14" fill="#ff3232"/>
<rect x="871.84" y="108.5" width="3.6" height="27" fill="#0c0000" stroke="#ff3232" stroke-width="1.2"/>
<rect x="878.98" y="92" width="1.4" height="14" fill="#ff3232"/>
<rect x="878.98" y="110" width="1.4" height="6" fill="#ff3232"/>
<rect x="877.88" y="106.5" width="3.6" height="3" fill="#0c0000" stroke="#ff3232" stroke-width="1.2"/>
<rect x="885.02" y="110" width="1.4" height="38" fill="#54ffff"/>
<rect x="883.42" y="112" width="4.6" height="11" fill="#54ffff"/>
<rect x="891.06" y="102" width="1.4" height="8" fill="#ff3232"/>
<rect x="891.06" y="127" width="1.4" height="3" fill="#ff3232"/>
<rect x="889.96" y="110.5" width="3.6" height="16" fill="#0c0000" stroke="#ff3232" stroke-width="1.2"/>
<rect x="897.11" y="110" width="1.4" height="34" fill="#54ffff"/>
<rect x="895.51" y="110" width="4.6" height="8" fill="#54ffff"/>
<rect x="903.15" y="121" width="1.4" height="16" fill="#ff3232"/>
<rect x="903.15" y="143" width="1.4" height="1" fill="#ff3232"/>
<rect x="902.05" y="137.5" width="3.6" height="5" fill="#0c0000" stroke="#ff3232" stroke-width="1.2"/>
<rect x="909.19" y="125" width="1.4" height="44" fill="#54ffff"/>
<rect x="907.59" y="125" width="4.6" height="41" fill="#54ffff"/>
<rect x="915.23" y="154" width="1.4" height="23" fill="#54ffff"/>
<rect x="913.63" y="159" width="4.6" height="2" fill="#54ffff"/>
<rect x="921.28" y="144" width="1.4" height="28" fill="#54ffff"/>
<rect x="919.68" y="166" width="4.6" height="4" fill="#54ffff"/>
<rect x="926.22" y="119.5" width="3.6" height="47" fill="#0c0000" stroke="#ff3232" stroke-width="1.2"/>
<rect x="933.36" y="63" width="1.4" height="3" fill="#ff3232"/>
<rect x="932.26" y="66.5" width="3.6" height="39" fill="#0c0000" stroke="#ff3232" stroke-width="1.2"/>
<rect x="939.40" y="56" width="1.4" height="20" fill="#54ffff"/>
<rect x="937.80" y="57" width="4.6" height="16" fill="#54ffff"/>
<rect x="944.35" y="60.5" width="3.6" height="20" fill="#0c0000" stroke="#ff3232" stroke-width="1.2"/>
<rect x="951.49" y="48" width="1.4" height="18" fill="#54ffff"/>
<rect x="949.89" y="50" width="4.6" height="4" fill="#54ffff"/>
<rect x="957.53" y="41" width="1.4" height="56" fill="#54ffff"/>
<rect x="955.93" y="46" width="4.6" height="36" fill="#54ffff"/>
<rect x="963.57" y="74" width="1.4" height="7" fill="#ff3232"/>
<rect x="963.57" y="87" width="1.4" height="9" fill="#ff3232"/>
<rect x="962.47" y="81.5" width="3.6" height="5" fill="#0c0000" stroke="#ff3232" stroke-width="1.2"/>
<rect x="969.62" y="81" width="1.4" height="20" fill="#54ffff"/>
<rect x="968.02" y="92" width="4.6" height="2" fill="#54ffff"/>
<rect x="975.65" y="88" width="1.4" height="35" fill="#54ffff"/>
<rect x="974.05" y="90" width="4.6" height="30" fill="#54ffff"/>
<rect x="981.69" y="113" width="1.4" height="4" fill="#ff3232"/>
<rect x="981.69" y="120" width="1.4" height="6" fill="#ff3232"/>
<rect x="980.59" y="117.5" width="3.6" height="2" fill="#0c0000" stroke="#ff3232" stroke-width="1.2"/>
<rect x="987.73" y="93" width="1.4" height="46" fill="#54ffff"/>
<rect x="986.13" y="96" width="4.6" height="42" fill="#54ffff"/>
<rect x="993.77" y="148" width="1.4" height="12" fill="#ff3232"/>
<rect x="992.67" y="117.5" width="3.6" height="30" fill="#0c0000" stroke="#ff3232" stroke-width="1.2"/>
<rect x="999.80" y="92" width="1.4" height="7" fill="#ff3232"/>
<rect x="998.70" y="99.5" width="3.6" height="15" fill="#0c0000" stroke="#ff3232" stroke-width="1.2"/>
<rect x="1005.84" y="98" width="1.4" height="12" fill="#54ffff"/>
<rect x="1004.24" y="102" width="4.6" height="8" fill="#54ffff"/>
<rect x="1011.88" y="113" width="1.4" height="5" fill="#ff3232"/>
<rect x="1010.78" y="101.5" width="3.6" height="11" fill="#0c0000" stroke="#ff3232" stroke-width="1.2"/>
<rect x="1017.92" y="95" width="1.4" height="25" fill="#54ffff"/>
<rect x="1016.32" y="98" width="4.6" height="18" fill="#54ffff"/>
<rect x="1023.96" y="111" width="1.4" height="19" fill="#54ffff"/>
<rect x="1022.36" y="117" width="4.6" height="9" fill="#54ffff"/>
<rect x="1029.99" y="97" width="1.4" height="2" fill="#ff3232"/>
<rect x="1029.99" y="121" width="1.4" height="9" fill="#ff3232"/>
<rect x="1028.89" y="99.5" width="3.6" height="21" fill="#0c0000" stroke="#ff3232" stroke-width="1.2"/>
<rect x="1036.03" y="95" width="1.4" height="41" fill="#54ffff"/>
<rect x="1034.43" y="104" width="4.6" height="32" fill="#54ffff"/>
<rect x="1042.07" y="128" width="1.4" height="20" fill="#54ffff"/>
<rect x="1040.47" y="141" width="4.6" height="5" fill="#54ffff"/>
<rect x="1048.11" y="143" width="1.4" height="38" fill="#54ffff"/>
<rect x="1046.51" y="146" width="4.6" height="32" fill="#54ffff"/>
<rect x="1054.14" y="165" width="1.4" height="8" fill="#ff3232"/>
<rect x="1053.04" y="173.5" width="3.6" height="9" fill="#0c0000" stroke="#ff3232" stroke-width="1.2"/>
<rect x="1060.18" y="219" width="1.4" height="59" fill="#54ffff"/>
<rect x="1058.58" y="228" width="4.6" height="44" fill="#54ffff"/>
<rect x="1066.22" y="249" width="1.4" height="39" fill="#54ffff"/>
<rect x="1064.62" y="270" width="4.6" height="2" fill="#54ffff"/>
<rect x="1072.26" y="258" width="1.4" height="24" fill="#ff3232"/>
<rect x="1072.26" y="292" width="1.4" height="2" fill="#ff3232"/>
<rect x="1071.16" y="282.5" width="3.6" height="9" fill="#0c0000" stroke="#ff3232" stroke-width="1.2"/>
<rect x="1078.29" y="275" width="1.4" height="17" fill="#54ffff"/>
<rect x="1076.69" y="290" width="4.6" height="2" fill="#54ffff"/>
<rect x="1084.33" y="278" width="1.4" height="17" fill="#ff3232"/>
<rect x="1083.23" y="242.5" width="3.6" height="35" fill="#0c0000" stroke="#ff3232" stroke-width="1.2"/>
<rect x="1090.37" y="249" width="1.4" height="19" fill="#54ffff"/>
<rect x="1088.77" y="257" width="4.6" height="8" fill="#54ffff"/>
<rect x="1096.41" y="255" width="1.4" height="19" fill="#ff3232"/>
<rect x="1094.61" y="272" width="5" height="2" fill="#ff3232"/>
<rect x="1102.44" y="244" width="1.4" height="2" fill="#ff3232"/>
<rect x="1101.34" y="246.5" width="3.6" height="15" fill="#0c0000" stroke="#ff3232" stroke-width="1.2"/>
<rect x="1108.48" y="240" width="1.4" height="1" fill="#ff3232"/>
<rect x="1108.48" y="248" width="1.4" height="7" fill="#ff3232"/>
<rect x="1107.38" y="241.5" width="3.6" height="6" fill="#0c0000" stroke="#ff3232" stroke-width="1.2"/>
<rect x="1114.52" y="239" width="1.4" height="50" fill="#54ffff"/>
<rect x="1112.92" y="239" width="4.6" height="45" fill="#54ffff"/>
<rect x="1120.56" y="282" width="1.4" height="24" fill="#54ffff"/>
<rect x="1118.96" y="285" width="4.6" height="6" fill="#54ffff"/>
<rect x="1126.59" y="266" width="1.4" height="8" fill="#ff3232"/>
<rect x="1126.59" y="292" width="1.4" height="2" fill="#ff3232"/>
<rect x="1125.49" y="274.5" width="3.6" height="17" fill="#0c0000" stroke="#ff3232" stroke-width="1.2"/>
<rect x="1132.63" y="264" width="1.4" height="21" fill="#54ffff"/>
<rect x="1131.03" y="274" width="4.6" height="2" fill="#54ffff"/>
<rect x="1138.67" y="279" width="1.4" height="29" fill="#54ffff"/>
<rect x="1137.07" y="279" width="4.6" height="27" fill="#54ffff"/>
<rect x="1144.71" y="294" width="1.4" height="21" fill="#54ffff"/>
<rect x="1143.11" y="304" width="4.6" height="7" fill="#54ffff"/>
<rect x="1150.74" y="272" width="1.4" height="4" fill="#ff3232"/>
<rect x="1149.64" y="276.5" width="3.6" height="32" fill="#0c0000" stroke="#ff3232" stroke-width="1.2"/>
<rect x="1156.78" y="273" width="1.4" height="7" fill="#ff3232"/>
<rect x="1155.68" y="264.5" width="3.6" height="8" fill="#0c0000" stroke="#ff3232" stroke-width="1.2"/>
<rect x="1162.82" y="265" width="1.4" height="5" fill="#ff3232"/>
<rect x="1162.82" y="275" width="1.4" height="3" fill="#ff3232"/>
<rect x="1161.72" y="270.5" width="3.6" height="4" fill="#0c0000" stroke="#ff3232" stroke-width="1.2"/>
<rect x="1168.86" y="272" width="1.4" height="22" fill="#54ffff"/>
<rect x="1167.26" y="272" width="4.6" height="10" fill="#54ffff"/>
<rect x="1174.90" y="269" width="1.4" height="19" fill="#54ffff"/>
<rect x="1173.30" y="277" width="4.6" height="4" fill="#54ffff"/>
<rect x="1180.93" y="269" width="1.4" height="25" fill="#54ffff"/>
<rect x="1179.33" y="276" width="4.6" height="15" fill="#54ffff"/>
<rect x="1186.97" y="289" width="1.4" height="19" fill="#54ffff"/>
<rect x="1185.37" y="292" width="4.6" height="10" fill="#54ffff"/>
<rect x="1193.01" y="289" width="1.4" height="19" fill="#54ffff"/>
<rect x="1191.41" y="289" width="4.6" height="17" fill="#54ffff"/>
<rect x="1199.05" y="306" width="1.4" height="30" fill="#54ffff"/>
<rect x="1197.45" y="306" width="4.6" height="26" fill="#54ffff"/>
<rect x="1205.08" y="315" width="1.4" height="6" fill="#ff3232"/>
<rect x="1205.08" y="328" width="1.4" height="10" fill="#ff3232"/>
<rect x="1203.98" y="321.5" width="3.6" height="6" fill="#0c0000" stroke="#ff3232" stroke-width="1.2"/>
<rect x="1210.02" y="278.5" width="3.6" height="41" fill="#0c0000" stroke="#ff3232" stroke-width="1.2"/>
<rect x="1217.12" y="278" width="1.4" height="14" fill="#54ffff"/>
<rect x="1215.52" y="282" width="4.6" height="6" fill="#54ffff"/>
<rect x="1223.11" y="281" width="1.4" height="3" fill="#ff3232"/>
<rect x="1223.11" y="288" width="1.4" height="7" fill="#ff3232"/>
<rect x="1222.01" y="284.5" width="3.6" height="3" fill="#0c0000" stroke="#ff3232" stroke-width="1.2"/>
<rect x="1229.10" y="276" width="1.4" height="29" fill="#54ffff"/>
<rect x="1227.50" y="284" width="4.6" height="20" fill="#54ffff"/>
<rect x="1235.10" y="299" width="1.4" height="18" fill="#54ffff"/>
<rect x="1233.50" y="305" width="4.6" height="7" fill="#54ffff"/>
<rect x="1241.09" y="300" width="1.4" height="4" fill="#ff3232"/>
<rect x="1241.09" y="312" width="1.4" height="4" fill="#ff3232"/>
<rect x="1239.99" y="304.5" width="3.6" height="7" fill="#0c0000" stroke="#ff3232" stroke-width="1.2"/>
<rect x="1247.09" y="264" width="1.4" height="27" fill="#54ffff"/>
<rect x="1245.49" y="267" width="4.6" height="24" fill="#54ffff"/>
<rect x="1253.08" y="264" width="1.4" height="5" fill="#ff3232"/>
<rect x="1253.08" y="292" width="1.4" height="2" fill="#ff3232"/>
<rect x="1251.98" y="269.5" width="3.6" height="22" fill="#0c0000" stroke="#ff3232" stroke-width="1.2"/>
<rect x="1259.08" y="241" width="1.4" height="14" fill="#54ffff"/>
<rect x="1257.48" y="242" width="4.6" height="7" fill="#54ffff"/>
<rect x="1265.07" y="246" width="1.4" height="15" fill="#54ffff"/>
<rect x="1263.47" y="247" width="4.6" height="10" fill="#54ffff"/>
<rect x="1271.06" y="257" width="1.4" height="25" fill="#54ffff"/>
<rect x="1269.46" y="258" width="4.6" height="12" fill="#54ffff"/>
<rect x="1277.06" y="276" width="1.4" height="2" fill="#ff3232"/>
<rect x="1275.96" y="264.5" width="3.6" height="11" fill="#0c0000" stroke="#ff3232" stroke-width="1.2"/>
<rect x="1283.05" y="246" width="1.4" height="1" fill="#ff3232"/>
<rect x="1281.95" y="247.5" width="3.6" height="12" fill="#0c0000" stroke="#ff3232" stroke-width="1.2"/>
<rect x="1289.05" y="249" width="1.4" height="18" fill="#54ffff"/>
<rect x="1287.45" y="249" width="4.6" height="14" fill="#54ffff"/>
<rect x="1295.04" y="233" width="1.4" height="4" fill="#ff3232"/>
<rect x="1293.94" y="214.5" width="3.6" height="18" fill="#0c0000" stroke="#ff3232" stroke-width="1.2"/>
<rect x="1301.04" y="210" width="1.4" height="3" fill="#ff3232"/>
<rect x="1301.04" y="217" width="1.4" height="4" fill="#ff3232"/>
<rect x="1299.94" y="213.5" width="3.6" height="3" fill="#0c0000" stroke="#ff3232" stroke-width="1.2"/>
<rect x="1307.03" y="216" width="1.4" height="22" fill="#54ffff"/>
<rect x="1305.43" y="216" width="4.6" height="18" fill="#54ffff"/>
<rect x="1313.02" y="228" width="1.4" height="19" fill="#54ffff"/>
<rect x="1311.42" y="229" width="4.6" height="14" fill="#54ffff"/>
<rect x="1319.02" y="226" width="1.4" height="4" fill="#ff3232"/>
<rect x="1317.92" y="230.5" width="3.6" height="10" fill="#0c0000" stroke="#ff3232" stroke-width="1.2"/>
<rect x="1325.01" y="231" width="1.4" height="41" fill="#54ffff"/>
<rect x="1323.41" y="231" width="4.6" height="33" fill="#54ffff"/>
<rect x="1331.01" y="263" width="1.4" height="4" fill="#ff3232"/>
<rect x="1329.91" y="253.5" width="3.6" height="9" fill="#0c0000" stroke="#ff3232" stroke-width="1.2"/>
<rect x="1337.00" y="248" width="1.4" height="13" fill="#54ffff"/>
<rect x="1335.40" y="249" width="4.6" height="11" fill="#54ffff"/>
<rect x="1343.00" y="244" width="1.4" height="16" fill="#54ffff"/>
<rect x="1341.40" y="251" width="4.6" height="6" fill="#54ffff"/>
<rect x="1348.99" y="249" width="1.4" height="5" fill="#ff3232"/>
<rect x="1348.99" y="257" width="1.4" height="5" fill="#ff3232"/>
<rect x="1347.89" y="254.5" width="3.6" height="2" fill="#0c0000" stroke="#ff3232" stroke-width="1.2"/>
<rect x="1354.98" y="226" width="1.4" height="5" fill="#ff3232"/>
<rect x="1354.98" y="259" width="1.4" height="11" fill="#ff3232"/>
<rect x="1353.88" y="231.5" width="3.6" height="27" fill="#0c0000" stroke="#ff3232" stroke-width="1.2"/>
<rect x="1360.98" y="228" width="1.4" height="10" fill="#54ffff"/>
<rect x="1359.38" y="232" width="4.6" height="2" fill="#54ffff"/>
<rect x="1366.97" y="220" width="1.4" height="10" fill="#ff3232"/>
<rect x="1365.87" y="230.5" width="3.6" height="5" fill="#0c0000" stroke="#ff3232" stroke-width="1.2"/>
<rect x="1372.98" y="235" width="1.4" height="13" fill="#54ffff"/>
<rect x="1371.38" y="235" width="4.6" height="13" fill="#54ffff"/>
<rect x="1378.98" y="228" width="1.4" height="8" fill="#ff3232"/>
<rect x="1377.88" y="236.5" width="3.6" height="7" fill="#0c0000" stroke="#ff3232" stroke-width="1.2"/>
<rect x="1384.98" y="233" width="1.4" height="27" fill="#54ffff"/>
<rect x="1383.38" y="233" width="4.6" height="22" fill="#54ffff"/>
<rect x="1390.98" y="241" width="1.4" height="2" fill="#ff3232"/>
<rect x="1389.88" y="243.5" width="3.6" height="10" fill="#0c0000" stroke="#ff3232" stroke-width="1.2"/>
<rect x="1396.98" y="220" width="1.4" height="7" fill="#ff3232"/>
<rect x="1395.88" y="227.5" width="3.6" height="10" fill="#0c0000" stroke="#ff3232" stroke-width="1.2"/>
<rect x="1402.99" y="228" width="1.4" height="2" fill="#ff3232"/>
<rect x="1401.89" y="216.5" width="3.6" height="11" fill="#0c0000" stroke="#ff3232" stroke-width="1.2"/>
<rect x="1408.99" y="217" width="1.4" height="10" fill="#54ffff"/>
<rect x="1407.39" y="218" width="4.6" height="3" fill="#54ffff"/>
<rect x="1414.99" y="221" width="1.4" height="2" fill="#ff3232"/>
<rect x="1413.89" y="216.5" width="3.6" height="4" fill="#0c0000" stroke="#ff3232" stroke-width="1.2"/>
<rect x="1420.99" y="197" width="1.4" height="9" fill="#ff3232"/>
<rect x="1419.89" y="206.5" width="3.6" height="9" fill="#0c0000" stroke="#ff3232" stroke-width="1.2"/>
<rect x="1426.99" y="207" width="1.4" height="6" fill="#54ffff"/>
<rect x="1425.39" y="208" width="4.6" height="5" fill="#54ffff"/>
<rect x="1433.00" y="208" width="1.4" height="2" fill="#ff3232"/>
<rect x="1431.90" y="210.5" width="3.6" height="9" fill="#0c0000" stroke="#ff3232" stroke-width="1.2"/>
<rect x="1439.00" y="238" width="1.4" height="2" fill="#ff3232"/>
<rect x="1437.90" y="225.5" width="3.6" height="12" fill="#0c0000" stroke="#ff3232" stroke-width="1.2"/>
<rect x="1445.00" y="216" width="1.4" height="27" fill="#54ffff"/>
<rect x="1443.40" y="227" width="4.6" height="16" fill="#54ffff"/>
</g>
<polyline points="5.6,292.0 11.6,288.0 17.6,273.4 23.7,265.3 29.7,262.1 35.7,267.2 41.7,279.0 47.7,294.1 53.7,303.8 59.7,309.8 65.7,311.0 71.7,308.7 77.7,299.7 83.7,293.8 89.7,287.2 95.7,286.5 101.7,288.9 107.7,296.3 113.7,302.0 119.7,309.7 125.7,315.5 131.7,317.0 137.7,325.4 143.7,334.9 149.7,341.8 155.7,346.6 161.7,355.5 167.7,361.9 173.7,365.1 179.7,364.5 185.7,365.0 191.7,358.2 197.7,349.5 203.7,342.4 209.8,340.9 215.8,337.5 221.9,346.4 228.0,355.7 234.1,367.0 240.1,388.4 246.2,410.7 252.2,426.7 258.3,446.4 264.4,464.5 270.4,473.1 276.5,475.7 282.6,465.8 288.6,454.5 294.7,446.3 300.8,435.9 306.8,433.8 312.9,443.5 319.0,448.4 325.0,449.6 331.1,447.8 337.2,435.0 343.2,419.8 349.3,406.1 355.4,395.2 361.4,388.3 367.4,392.1 373.4,389.1 379.4,382.5 385.5,376.2 391.5,364.4 397.5,351.8 403.5,348.0 409.5,353.6 415.6,357.3 421.6,365.4 427.6,380.1 433.6,393.6 439.6,399.6 445.7,402.9 451.7,409.2 457.7,405.7 463.7,395.7 469.7,386.2 475.8,379.9 481.8,374.9 487.8,373.3 493.8,380.3 499.8,386.4 505.9,393.1 511.9,392.8 517.9,397.6 523.9,401.7 529.9,408.6 536.0,419.7 542.0,430.3 548.0,436.3 554.0,438.8 560.0,441.9 566.1,442.5 572.1,447.3 578.1,450.5 584.1,459.0 590.1,468.2 596.2,471.2 602.2,468.1 608.2,466.0 614.2,460.7 620.2,454.0 626.3,451.5 632.3,454.6 638.3,454.5 644.3,453.6 650.4,454.4 656.4,452.9 662.4,448.6 668.4,450.5 674.4,453.4 680.5,451.4 686.5,452.1 692.5,454.8 698.5,456.3 704.5,459.2 710.5,465.0 716.6,464.1 722.6,455.0 728.6,441.3 734.7,422.0 740.7,401.3 746.7,388.3 752.8,373.2 758.8,361.6 764.9,353.8 770.9,345.6 777.0,330.2 783.0,311.3 789.0,289.5 795.1,271.9 801.1,253.1 807.2,235.6 813.2,222.7 819.2,202.6 825.3,174.8 831.3,150.3 837.4,137.2 843.4,120.3 849.5,105.6 855.5,106.7 861.5,113.4 867.6,112.1 873.6,115.4 879.7,125.3 885.7,126.3 891.8,118.0 897.8,113.2 903.9,119.0 909.9,130.9 915.9,138.4 922.0,150.3 928.0,150.3 934.1,136.2 940.1,117.5 946.1,97.6 952.2,74.6 958.2,67.2 964.3,70.2 970.3,74.2 976.4,86.2 982.4,98.6 988.4,109.9 994.5,116.9 1000.5,118.1 1006.5,116.2 1012.6,113.0 1018.6,108.5 1024.7,110.4 1030.7,110.4 1036.7,115.6 1042.8,124.5 1048.8,137.1 1054.8,146.5 1060.9,181.0 1066.9,207.9 1073.0,235.2 1079.0,258.0 1085.0,271.7 1091.1,270.3 1097.1,270.7 1103.1,263.5 1109.2,253.3 1115.2,261.6 1121.3,266.9 1127.3,267.1 1133.3,273.0 1139.4,286.0 1145.4,291.5 1151.4,288.4 1157.5,286.6 1163.5,285.6 1169.6,280.8 1175.6,274.7 1181.6,277.7 1187.7,285.1 1193.7,292.4 1199.8,302.2 1205.8,310.3 1211.8,307.7 1217.8,304.9 1223.8,300.3 1229.8,294.7 1235.8,292.9 1241.8,298.1 1247.8,298.8 1253.8,295.8 1259.8,284.9 1265.8,273.8 1271.8,267.1 1277.8,261.6 1283.8,257.3 1289.8,260.1 1295.7,251.7 1301.7,240.3 1307.7,234.4 1313.7,233.6 1319.7,227.0 1325.7,236.9 1331.7,244.9 1337.7,250.1 1343.7,253.0 1349.7,257.7 1355.7,251.2 1361.7,247.2 1367.7,241.2 1373.7,239.5 1379.7,235.9 1385.7,240.6 1391.7,242.5 1397.7,241.9 1403.7,235.4 1409.7,232.5 1415.7,224.7 1421.7,217.3 1427.7,214.4 1433.7,213.2 1439.7,213.9 1445.7,219.3" fill="none" stroke="#ffffff" stroke-width="1.35" stroke-linejoin="round" />
<polyline points="5.6,260.3 11.6,265.8 17.6,267.8 23.7,270.9 29.7,276.4 35.7,279.6 41.7,283.5 47.7,283.8 53.7,284.6 59.7,286.0 65.7,289.1 71.7,293.9 77.7,296.9 83.7,298.8 89.7,298.5 95.7,298.8 101.7,298.8 107.7,298.0 113.7,297.9 119.7,298.5 125.7,301.0 131.7,303.0 137.7,310.9 143.7,318.4 149.7,325.8 155.7,331.0 161.7,336.3 167.7,343.7 173.7,350.0 179.7,353.1 185.7,355.8 191.7,356.9 197.7,355.7 203.7,353.7 209.8,352.7 215.8,351.2 221.9,352.3 228.0,352.6 234.1,354.7 240.1,364.6 246.2,374.1 252.2,386.5 258.3,401.0 264.4,415.7 270.4,430.8 276.5,443.2 282.6,446.2 288.6,450.4 294.7,455.4 300.8,454.5 306.8,454.7 312.9,454.7 319.0,451.4 325.0,448.0 331.1,441.9 337.2,434.4 343.2,431.7 349.3,427.2 355.4,422.4 361.4,418.1 367.4,413.6 373.4,404.5 379.4,394.3 385.5,385.7 391.5,376.4 397.5,372.0 403.5,368.5 409.5,368.1 415.6,366.8 421.6,364.9 427.6,366.0 433.6,370.8 439.6,376.6 445.7,380.1 451.7,387.3 457.7,392.9 463.7,394.6 469.7,392.9 475.8,391.4 481.8,392.0 487.8,389.5 493.8,388.0 499.8,386.3 505.9,386.5 511.9,383.8 517.9,385.4 523.9,391.0 529.9,397.5 536.0,406.4 542.0,411.5 548.0,416.9 554.0,420.3 560.0,425.2 566.1,431.1 572.1,438.8 578.1,443.4 584.1,448.9 590.1,455.1 596.2,456.8 602.2,457.7 608.2,458.3 614.2,459.8 620.2,461.1 626.3,461.3 632.3,461.4 638.3,460.3 644.3,457.1 650.4,454.2 656.4,452.2 662.4,451.6 668.4,452.5 674.4,453.5 680.5,452.9 686.5,452.5 692.5,451.7 698.5,453.4 704.5,456.3 710.5,458.2 716.6,458.1 722.6,454.9 728.6,448.8 734.7,440.6 740.7,433.2 746.7,426.2 752.8,414.1 758.8,401.5 764.9,387.9 770.9,373.5 777.0,359.2 783.0,342.2 789.0,325.5 795.1,312.9 801.1,299.4 807.2,282.9 813.2,267.0 819.2,246.0 825.3,223.3 831.3,201.7 837.4,186.4 843.4,171.5 849.5,154.1 855.5,140.8 861.5,131.8 867.6,124.6 873.6,117.9 879.7,115.5 885.7,116.5 891.8,115.7 897.8,112.6 903.9,117.2 909.9,128.1 915.9,132.3 922.0,134.1 928.0,131.8 934.1,127.6 940.1,124.2 946.1,118.0 952.2,112.4 958.2,108.8 964.3,103.2 970.3,95.9 976.4,91.9 982.4,86.6 988.4,88.5 994.5,93.6 1000.5,96.2 1006.5,101.2 1012.6,105.8 1018.6,109.2 1024.7,113.6 1030.7,114.2 1036.7,115.9 1042.8,118.8 1048.8,122.8 1054.8,128.4 1060.9,145.7 1066.9,161.7 1073.0,179.9 1079.0,197.6 1085.0,209.1 1091.1,225.7 1097.1,239.3 1103.1,249.4 1109.2,255.6 1115.2,266.7 1121.3,268.6 1127.3,268.9 1133.3,268.2 1139.4,269.6 1145.4,276.5 1151.4,277.7 1157.5,276.9 1163.5,279.3 1169.6,283.4 1175.6,283.1 1181.6,283.1 1187.7,285.9 1193.7,289.0 1199.8,291.5 1205.8,292.5 1211.8,292.7 1217.8,295.0 1223.8,296.3 1229.8,298.4 1235.8,301.6 1241.8,302.9 1247.8,301.8 1253.8,298.1 1259.8,289.8 1265.8,283.3 1271.8,282.6 1277.8,280.2 1283.8,276.5 1289.8,272.5 1295.7,262.7 1301.7,253.7 1307.7,248.0 1313.7,245.4 1319.7,243.6 1325.7,244.3 1331.7,242.6 1337.7,242.2 1343.7,243.3 1349.7,242.3 1355.7,244.0 1361.7,246.0 1367.7,245.7 1373.7,246.2 1379.7,246.8 1385.7,245.9 1391.7,244.8 1397.7,241.6 1403.7,237.4 1409.7,234.2 1415.7,232.7 1421.7,229.9 1427.7,228.1 1433.7,224.3 1439.7,223.2 1445.7,222.0" fill="none" stroke="#ffff00" stroke-width="1.35" stroke-linejoin="round" />
<polyline points="5.6,219.4 11.6,223.0 17.6,227.0 23.7,231.0 29.7,235.5 35.7,241.0 41.7,247.0 47.7,254.0 53.7,262.0 59.7,268.5 65.7,274.5 71.7,279.0 77.7,282.5 83.7,284.7 89.7,287.0 95.7,290.0 101.7,291.5 107.7,292.0 113.7,292.0 119.7,292.2 125.7,295.1 131.7,298.4 137.7,303.9 143.7,308.6 149.7,312.1 155.7,314.9 161.7,317.5 167.7,320.8 173.7,323.9 179.7,325.8 185.7,328.4 191.7,329.9 197.7,333.3 203.7,336.1 209.8,339.2 215.8,341.1 221.9,344.3 228.0,348.1 234.1,352.3 240.1,358.9 246.2,364.9 252.2,371.7 258.3,378.4 264.4,384.7 270.4,391.7 276.5,397.2 282.6,399.3 288.6,401.5 294.7,405.0 300.8,409.6 306.8,414.4 312.9,420.6 319.0,426.2 325.0,431.9 331.1,436.3 337.2,438.8 343.2,439.0 349.3,438.8 355.4,438.9 361.4,436.3 367.4,434.1 373.4,429.6 379.4,422.9 385.5,416.8 391.5,409.1 397.5,403.2 403.5,400.1 409.5,397.6 415.6,394.6 421.6,391.5 427.6,389.8 433.6,387.6 439.6,385.5 445.7,382.9 451.7,381.8 457.7,382.4 463.7,381.6 469.7,380.5 475.8,379.1 481.8,378.5 487.8,377.7 493.8,379.4 499.8,381.5 505.9,383.3 511.9,385.6 517.9,389.2 523.9,392.8 529.9,395.2 536.0,398.9 542.0,401.8 548.0,403.2 554.0,404.1 560.0,405.8 566.1,408.8 572.1,411.3 578.1,414.4 584.1,419.9 590.1,426.3 596.2,431.6 602.2,434.6 608.2,437.6 614.2,440.1 620.2,443.2 626.3,446.2 632.3,450.1 638.3,451.8 644.3,453.0 650.4,454.6 656.4,454.5 662.4,454.7 668.4,455.4 674.4,456.7 680.5,457.0 686.5,456.9 692.5,456.5 698.5,456.9 704.5,456.7 710.5,456.2 716.6,455.1 722.6,453.3 728.6,450.7 734.7,447.0 740.7,443.0 746.7,439.3 752.8,432.9 758.8,427.4 764.9,422.1 770.9,415.8 777.0,408.6 783.0,398.6 789.0,387.2 795.1,376.7 801.1,366.3 807.2,354.5 813.2,340.6 819.2,323.8 825.3,305.6 831.3,287.6 837.4,272.8 843.4,256.9 849.5,239.8 855.5,226.8 861.5,215.6 867.6,203.8 873.6,192.4 879.7,180.8 885.7,169.9 891.8,158.7 897.8,149.5 903.9,144.4 909.9,141.1 915.9,136.5 922.0,133.0 928.0,128.2 934.1,122.7 940.1,119.8 946.1,117.2 952.2,114.1 958.2,110.7 964.3,110.2 970.3,112.0 976.4,112.1 982.4,110.4 988.4,110.2 994.5,110.6 1000.5,110.2 1006.5,109.6 1012.6,109.1 1018.6,109.0 1024.7,108.4 1030.7,105.1 1036.7,103.9 1042.8,102.7 1048.8,105.7 1054.8,111.0 1060.9,120.9 1066.9,131.4 1073.0,142.8 1079.0,153.4 1085.0,161.4 1091.1,170.0 1097.1,177.6 1103.1,184.1 1109.2,189.2 1115.2,197.6 1121.3,207.2 1127.3,215.3 1133.3,224.1 1139.4,233.6 1145.4,242.8 1151.4,251.7 1157.5,258.1 1163.5,264.3 1169.6,269.5 1175.6,274.9 1181.6,275.8 1187.7,277.4 1193.7,278.6 1199.8,280.6 1205.8,284.5 1211.8,285.2 1217.8,285.9 1223.8,287.8 1229.8,290.9 1235.8,292.4 1241.8,293.0 1247.8,293.9 1253.8,293.5 1259.8,290.6 1265.8,287.9 1271.8,287.6 1277.8,287.6 1283.8,286.4 1289.8,285.5 1295.7,282.2 1301.7,278.3 1307.7,274.9 1313.7,271.7 1319.7,266.7 1325.7,263.8 1331.7,262.6 1337.7,261.2 1343.7,259.9 1349.7,257.4 1355.7,253.4 1361.7,249.9 1367.7,246.8 1373.7,245.8 1379.7,245.2 1385.7,245.1 1391.7,243.7 1397.7,241.9 1403.7,240.3 1409.7,238.3 1415.7,238.3 1421.7,238.0 1427.7,236.9 1433.7,235.3 1439.7,235.0 1445.7,234.0" fill="none" stroke="#ff00ff" stroke-width="1.35" stroke-linejoin="round" />
<polyline points="5.0,58.9 40.3,62.7 80.6,69.7 121.0,78.6 161.3,87.9 201.6,99.2 242.0,109.3 282.3,121.9 322.6,134.5 375.0,149.0 415.3,159.7 475.8,174.9 536.3,190.5 586.7,203.8 627.0,213.2 677.4,227.0 730.0,240.3 745.0,245.3 769.0,248.5 780.5,249.7 835.0,251.0 870.0,252.6 880.0,253.0 939.0,257.0 992.0,260.0 1029.0,262.3 1046.5,264.7 1115.0,274.0 1189.0,288.8 1215.0,293.5 1263.4,298.8 1276.0,300.9 1371.0,301.2 1431.0,302.3 1445.0,303.8" fill="none" stroke="#00e000" stroke-width="1.4" stroke-linejoin="round" />
<rect x="1258" y="297" width="209" height="1.4" fill="#909090"/>
<clipPath id="cm"><rect x="2" y="42" width="1465" height="479"/></clipPath><g clip-path="url(#cm)">
<path d="M6.5,314.9 l8,8.9 h-4.5 v7.6 h-7 v-7.6 h-4.5 z" fill="#ff0000"/>
<path d="M54.4,324.0 l8,8.9 h-4.5 v7.6 h-7 v-7.6 h-4.5 z" fill="#ff0000"/>
<path d="M132.3,336.09999999999997 l8,8.9 h-4.5 v7.6 h-7 v-7.6 h-4.5 z" fill="#ff0000"/>
<path d="M174.5,388.7 l8,8.9 h-4.5 v7.6 h-7 v-7.6 h-4.5 z" fill="#ff0000"/>
<path d="M446,421.4 l8,8.9 h-4.5 v7.6 h-7 v-7.6 h-4.5 z" fill="#ff0000"/>
<path d="M554,453.0 l8,8.9 h-4.5 v7.6 h-7 v-7.6 h-4.5 z" fill="#ff0000"/>
<path d="M603.8,468.09999999999997 l8,8.9 h-4.5 v7.6 h-7 v-7.6 h-4.5 z" fill="#ff0000"/>
<path d="M717.4,477.3 l8,8.9 h-4.5 v7.6 h-7 v-7.6 h-4.5 z" fill="#ff0000"/>
<path d="M929,171.1 l8,8.9 h-4.5 v7.6 h-7 v-7.6 h-4.5 z" fill="#ff0000"/>
<path d="M1084.9,298.4 l8,8.9 h-4.5 v7.6 h-7 v-7.6 h-4.5 z" fill="#ff0000"/>
<path d="M1150.8,312.0 l8,8.9 h-4.5 v7.6 h-7 v-7.6 h-4.5 z" fill="#ff0000"/>
<path d="M1194.3,310.2 l8,8.9 h-4.5 v7.6 h-7 v-7.6 h-4.5 z" fill="#ff0000"/>
<path d="M1212.5,323.7 l8,8.9 h-4.5 v7.6 h-7 v-7.6 h-4.5 z" fill="#ff0000"/>
<path d="M277,514.2 l8,8.9 h-4.5 v7.6 h-7 v-7.6 h-4.5 z" fill="#ff0000"/>
<path d="M362,373.9 l-7,-8 h4.2 v-7.6 h5.6 v7.6 h4.2 z" fill="none" stroke="#00e800" stroke-width="1.3"/>
<path d="M403.5,339.2 l-7,-8 h4.2 v-7.6 h5.6 v7.6 h4.2 z" fill="none" stroke="#00e800" stroke-width="1.3"/>
<path d="M669.5,439.8 l-7,-8 h4.2 v-7.6 h5.6 v7.6 h4.2 z" fill="none" stroke="#00e800" stroke-width="1.3"/>
<path d="M837.6,95.8 l-7,-8 h4.2 v-7.6 h5.6 v7.6 h4.2 z" fill="none" stroke="#00e800" stroke-width="1.3"/>
<path d="M855.5,57 l-7,-8 h4.2 v-7.6 h5.6 v7.6 h4.2 z" fill="none" stroke="#00e800" stroke-width="1.3"/>
<path d="M1272.4,255.2 l-7,-8 h4.2 v-7.6 h5.6 v7.6 h4.2 z" fill="none" stroke="#00e800" stroke-width="1.3"/>
<path d="M1290.3,246.1 l-7,-8 h4.2 v-7.6 h5.6 v7.6 h4.2 z" fill="none" stroke="#00e800" stroke-width="1.3"/>
<path d="M1308.5,212 l-7,-8 h4.2 v-7.6 h5.6 v7.6 h4.2 z" fill="none" stroke="#00e800" stroke-width="1.3"/>
<path d="M1434.4,203.8 l-7,-8 h4.2 v-7.6 h5.6 v7.6 h4.2 z" fill="none" stroke="#00e800" stroke-width="1.3"/>
</g>
<g fill="#0000f0">
<rect x="2" y="88.4" width="1465" height="1.8"/>
<rect x="2" y="156.0" width="1465" height="3.0"/>
<rect x="2" y="211.4" width="1465" height="1.8"/>
<rect x="2" y="262.5" width="1465" height="1.8"/>
<rect x="2" y="331.5" width="1465" height="1.8"/>
</g>
<clipPath id="ck"><rect x="2" y="736" width="1465" height="155"/></clipPath><g clip-path="url(#ck)">
<polyline points="5.6,855.3 11.6,849.7 17.6,841.1 23.7,830.6 29.7,825.1 35.7,824.3 41.7,829.0 47.7,833.2 53.7,834.7 59.7,836.4 65.7,836.4 71.7,836.1 77.7,830.8 83.7,821.7 89.7,813.4 95.7,809.1 101.7,813.6 107.7,818.2 113.7,820.6 119.7,825.4 125.7,832.1 131.7,838.5 137.7,845.3 143.7,850.0 149.7,854.0 155.7,854.6 161.7,857.1 167.7,859.7 173.7,859.0 179.7,855.2 185.7,849.0 191.7,836.6 197.7,824.7 203.7,813.8 209.8,807.5 215.8,802.5 221.9,807.1 228.0,815.4 234.1,823.9 240.1,832.8 246.2,839.1 252.2,844.6 258.3,849.9 264.4,853.3 270.4,856.9 276.5,855.9 282.6,848.3 288.6,838.8 294.7,830.2 300.8,823.8 306.8,819.8 312.9,818.5 319.0,817.8 325.0,816.1 331.1,814.7 337.2,808.4 343.2,802.2 349.3,796.7 355.4,792.5 361.4,790.7 367.4,790.7 373.4,787.6 379.4,784.2 385.5,782.6 391.5,779.7 397.5,778.0 403.5,778.4 409.5,784.6 415.6,791.6 421.6,799.6 427.6,811.2 433.6,822.1 439.6,830.6 445.7,834.5 451.7,838.5 457.7,839.4 463.7,832.3 469.7,821.5 475.8,811.1 481.8,806.8 487.8,807.0 493.8,811.3 499.8,815.4 505.9,818.6 511.9,822.0 517.9,829.1 523.9,835.5 529.9,841.3 536.0,847.4 542.0,851.1 548.0,853.8 554.0,854.3 560.0,853.4 566.1,853.1 572.1,854.6 578.1,854.9 584.1,856.9 590.1,859.7 596.2,856.3 602.2,847.2 608.2,836.9 614.2,827.6 620.2,820.5 626.3,814.6 632.3,812.0 638.3,808.4 644.3,804.2 650.4,806.6 656.4,806.9 662.4,805.0 668.4,807.7 674.4,812.9 680.5,814.4 686.5,814.0 692.5,816.2 698.5,820.3 704.5,827.5 710.5,834.6 716.6,831.6 722.6,822.7 728.6,812.4 734.7,802.7 740.7,794.5 746.7,788.7 752.8,783.3 758.8,779.9 764.9,777.7 770.9,777.7 777.0,776.0 783.0,773.9 789.0,773.5 795.1,775.5 801.1,777.7 807.2,777.9 813.2,777.7 819.2,776.0 825.3,773.9 831.3,773.1 837.4,775.3 843.4,774.9 849.5,774.2 855.5,777.1 861.5,785.6 867.6,795.9 873.6,803.1 879.7,808.0 885.7,813.0 891.8,816.2 897.8,819.1 903.9,822.9 909.9,829.8 915.9,835.4 922.0,841.1 928.0,838.9 934.1,829.8 940.1,820.1 946.1,810.0 952.2,800.9 958.2,796.3 964.3,794.3 970.3,794.8 976.4,799.2 982.4,808.2 988.4,819.4 994.5,825.9 1000.5,827.8 1006.5,828.6 1012.6,825.6 1018.6,822.6 1024.7,821.2 1030.7,815.4 1036.7,815.0 1042.8,818.7 1048.8,826.1 1054.8,833.4 1060.9,840.7 1066.9,846.5 1073.0,851.4 1079.0,856.0 1085.0,856.7 1091.1,856.7 1097.1,856.8 1103.1,854.1 1109.2,846.4 1115.2,843.5 1121.3,842.8 1127.3,840.1 1133.3,837.0 1139.4,839.6 1145.4,843.8 1151.4,842.7 1157.5,837.5 1163.5,832.0 1169.6,826.2 1175.6,820.7 1181.6,818.2 1187.7,820.0 1193.7,824.7 1199.8,831.4 1205.8,836.4 1211.8,832.5 1217.8,826.4 1223.8,819.3 1229.8,816.1 1235.8,816.1 1241.8,815.7 1247.8,814.2 1253.8,808.6 1259.8,802.3 1265.8,797.6 1271.8,796.3 1277.8,795.7 1283.8,792.7 1289.8,791.7 1295.7,788.1 1301.7,784.1 1307.7,784.1 1313.7,787.4 1319.7,789.6 1325.7,797.5 1331.7,805.7 1337.7,814.5 1343.7,822.2 1349.7,827.6 1355.7,826.3 1361.7,820.6 1367.7,814.0 1373.7,812.1 1379.7,809.6 1385.7,812.0 1391.7,813.1 1397.7,809.8 1403.7,803.1 1409.7,797.2 1415.7,790.7 1421.7,786.5 1427.7,785.2 1433.7,784.8 1439.7,788.3 1445.7,799.4" fill="none" stroke="#ffff00" stroke-width="1.35" stroke-linejoin="round" />
<polyline points="5.6,850.9 11.6,838.7 17.6,824.0 23.7,809.5 29.7,814.3 35.7,822.5 41.7,838.5 47.7,841.6 53.7,837.7 59.7,839.8 65.7,836.3 71.7,835.6 77.7,820.1 83.7,803.4 89.7,796.8 95.7,800.5 101.7,822.5 107.7,827.5 113.7,825.3 119.7,835.2 125.7,845.5 131.7,851.4 137.7,858.9 143.7,859.2 149.7,861.9 155.7,856.0 161.7,861.9 167.7,864.9 173.7,857.7 179.7,847.6 185.7,836.5 191.7,812.0 197.7,800.9 203.7,792.0 209.8,795.0 215.8,792.4 221.9,816.2 228.0,832.2 234.1,840.8 240.1,850.7 246.2,851.8 252.2,855.6 258.3,860.4 264.4,860.1 270.4,864.2 276.5,853.9 282.6,833.1 288.6,819.9 294.7,813.1 300.8,811.0 306.8,811.9 312.9,815.9 319.0,816.3 325.0,812.7 331.1,812.0 337.2,795.6 343.2,789.8 349.3,785.8 355.4,784.0 361.4,787.0 367.4,790.7 373.4,781.5 379.4,777.3 385.5,779.3 391.5,773.9 397.5,774.7 403.5,779.3 409.5,796.9 415.6,805.8 421.6,815.6 427.6,834.3 433.6,844.0 439.6,847.5 445.7,842.1 451.7,846.5 457.7,841.2 463.7,818.2 469.7,800.0 475.8,790.3 481.8,798.2 487.8,807.3 493.8,820.0 499.8,823.4 505.9,825.2 511.9,828.7 517.9,843.2 523.9,848.4 529.9,853.0 536.0,859.6 542.0,858.5 548.0,859.2 554.0,855.3 560.0,851.7 566.1,852.3 572.1,857.6 578.1,855.5 584.1,860.9 590.1,865.3 596.2,849.5 602.2,829.0 608.2,816.4 614.2,809.0 620.2,806.2 626.3,802.9 632.3,806.7 638.3,801.1 644.3,796.0 650.4,811.2 656.4,807.6 662.4,801.1 668.4,813.1 674.4,823.4 680.5,817.3 686.5,813.3 692.5,820.5 698.5,828.6 704.5,841.8 710.5,848.9 716.6,825.7 722.6,804.8 728.6,791.7 734.7,783.4 740.7,778.1 746.7,777.2 752.8,772.5 758.8,773.0 764.9,773.4 770.9,777.6 777.0,772.8 783.0,769.5 789.0,772.9 795.1,779.6 801.1,782.0 807.2,778.3 813.2,777.4 819.2,772.6 825.3,769.7 831.3,771.4 837.4,779.8 843.4,774.2 849.5,772.6 855.5,783.1 861.5,802.7 867.6,816.3 873.6,817.6 879.7,817.9 885.7,823.0 891.8,822.6 897.8,824.8 903.9,830.6 909.9,843.6 915.9,846.5 922.0,852.5 928.0,834.5 934.1,811.7 940.1,800.8 946.1,789.6 952.2,782.6 958.2,787.3 964.3,790.2 970.3,795.8 976.4,808.1 982.4,826.1 988.4,841.7 994.5,839.0 1000.5,831.7 1006.5,830.3 1012.6,819.4 1018.6,816.8 1024.7,818.4 1030.7,803.8 1036.7,814.1 1042.8,826.1 1048.8,840.9 1054.8,847.9 1060.9,855.4 1066.9,858.2 1073.0,861.2 1079.0,865.1 1085.0,858.2 1091.1,856.7 1097.1,856.9 1103.1,848.7 1109.2,831.0 1115.2,837.6 1121.3,841.6 1127.3,834.5 1133.3,830.9 1139.4,844.6 1145.4,852.3 1151.4,840.5 1157.5,827.1 1163.5,820.9 1169.6,814.8 1175.6,809.5 1181.6,813.3 1187.7,823.7 1193.7,834.0 1199.8,844.9 1205.8,846.2 1211.8,824.8 1217.8,814.3 1223.8,805.1 1229.8,809.7 1235.8,816.0 1241.8,814.8 1247.8,811.2 1253.8,797.5 1259.8,789.6 1265.8,788.2 1271.8,793.8 1277.8,794.4 1283.8,786.8 1289.8,789.7 1295.7,780.8 1301.7,776.1 1307.7,784.0 1313.7,794.1 1319.7,794.1 1325.7,813.1 1331.7,822.1 1337.7,832.3 1343.7,837.4 1349.7,838.6 1355.7,823.5 1361.7,809.2 1367.7,800.8 1373.7,808.3 1379.7,804.8 1385.7,816.7 1391.7,815.3 1397.7,803.1 1403.7,789.7 1409.7,785.3 1415.7,777.9 1421.7,778.2 1427.7,782.4 1433.7,784.0 1439.7,795.3 1445.7,821.5" fill="none" stroke="#ffffff" stroke-width="1.35" stroke-linejoin="round" />
<polyline points="5.6,842.3 11.6,816.5 17.6,789.6 23.7,767.2 29.7,792.5 35.7,819.1 41.7,857.4 47.7,858.5 53.7,843.6 59.7,846.7 65.7,836.1 71.7,834.4 77.7,798.8 83.7,767.0 89.7,763.6 95.7,783.3 101.7,840.4 107.7,846.0 113.7,834.7 119.7,854.7 125.7,872.1 131.7,877.2 137.7,886.1 143.7,877.8 149.7,877.9 155.7,858.6 161.7,871.7 167.7,875.3 173.7,855.2 179.7,832.3 185.7,811.5 191.7,762.7 197.7,753.2 203.7,748.3 209.8,770.0 215.8,772.3 221.9,834.3 228.0,865.7 234.1,874.6 240.1,886.5 246.2,877.0 252.2,877.6 258.3,881.3 264.4,873.7 270.4,878.7 276.5,849.9 282.6,802.7 288.6,782.0 294.7,778.7 300.8,785.3 306.8,796.0 312.9,810.8 319.0,813.4 325.0,806.0 331.1,806.4 337.2,770.2 343.2,764.9 349.3,764.1 355.4,767.1 361.4,779.7 367.4,790.8 373.4,769.2 379.4,763.5 385.5,772.9 391.5,762.3 397.5,768.1 403.5,780.9 409.5,821.6 415.6,834.0 421.6,847.4 427.6,880.7 433.6,887.8 439.6,881.4 445.7,857.5 451.7,862.6 457.7,844.9 463.7,789.8 469.7,756.9 475.8,748.6 481.8,781.0 487.8,808.0 493.8,837.3 499.8,839.6 505.9,838.3 511.9,842.2 517.9,871.4 523.9,874.2 529.9,876.2 536.0,883.9 542.0,873.3 548.0,870.0 554.0,857.2 560.0,848.2 566.1,850.8 572.1,863.7 578.1,856.8 584.1,869.0 590.1,876.4 596.2,835.9 602.2,792.5 608.2,775.4 614.2,771.8 620.2,777.7 626.3,779.5 632.3,796.1 638.3,786.6 644.3,779.4 650.4,820.6 656.4,808.9 662.4,793.3 668.4,823.9 674.4,844.4 680.5,823.2 686.5,811.8 692.5,829.1 698.5,845.1 704.5,870.6 710.5,877.5 716.6,813.7 722.6,768.9 728.6,750.5 734.7,744.7 740.7,745.2 746.7,754.1 752.8,750.8 758.8,759.2 764.9,764.7 770.9,777.5 777.0,766.2 783.0,760.8 789.0,771.5 795.1,787.6 801.1,790.6 807.2,779.1 813.2,776.8 819.2,765.8 825.3,761.3 831.3,768.0 837.4,788.7 843.4,772.7 849.5,769.6 855.5,794.9 861.5,836.7 867.6,857.1 873.6,846.6 879.7,837.6 885.7,843.0 891.8,835.4 897.8,836.3 903.9,846.1 909.9,871.2 915.9,868.6 922.0,875.4 928.0,825.6 934.1,775.5 940.1,762.1 946.1,748.9 952.2,746.1 958.2,769.1 964.3,782.0 970.3,797.9 976.4,825.9 982.4,861.9 988.4,886.4 994.5,865.1 1000.5,839.4 1006.5,833.5 1012.6,807.1 1018.6,805.0 1024.7,812.8 1030.7,780.5 1036.7,812.5 1042.8,841.0 1048.8,870.4 1054.8,877.0 1060.9,884.7 1066.9,881.5 1073.0,880.9 1079.0,883.4 1085.0,861.1 1091.1,856.7 1097.1,857.1 1103.1,837.9 1109.2,800.2 1115.2,825.9 1121.3,839.1 1127.3,823.5 1133.3,818.8 1139.4,854.7 1145.4,869.2 1151.4,836.1 1157.5,806.2 1163.5,798.9 1169.6,791.9 1175.6,787.1 1181.6,803.5 1187.7,831.0 1193.7,852.7 1199.8,871.8 1205.8,866.0 1211.8,809.4 1217.8,790.0 1223.8,776.7 1229.8,796.9 1235.8,815.7 1241.8,813.2 1247.8,805.3 1253.8,775.3 1259.8,764.2 1265.8,769.4 1271.8,788.8 1277.8,791.9 1283.8,775.0 1289.8,785.6 1295.7,766.2 1301.7,760.2 1307.7,783.8 1313.7,807.4 1319.7,803.0 1325.7,844.4 1331.7,855.0 1337.7,867.8 1343.7,867.8 1349.7,860.6 1355.7,818.0 1361.7,786.5 1367.7,774.4 1373.7,800.7 1379.7,795.1 1385.7,826.0 1391.7,819.8 1397.7,789.8 1403.7,763.0 1409.7,761.6 1415.7,752.2 1421.7,761.4 1427.7,777.0 1433.7,782.3 1439.7,809.3 1445.7,865.8" fill="none" stroke="#ff00ff" stroke-width="1.35" stroke-linejoin="round" />
</g>
<g>
<rect x="2" y="538.7" width="1489" height="1.7" fill="#b00000"/>
<rect x="2" y="714" width="1465" height="2.2" fill="#8c0000"/>
<rect x="1467" y="714" width="24" height="2.4" fill="#b80000"/>
<rect x="2" y="890.9" width="1465" height="2.1" fill="#8c0000"/><rect x="1467" y="889.6" width="24" height="3.4" fill="#b80000"/>
<rect x="1467.1" y="12" width="2.1" height="704" fill="#a80000"/>
<rect x="1467.1" y="716" width="3.8" height="177" fill="#b80000"/>
<rect x="1469" y="35.7" width="7.6" height="1.3" fill="#a80000"/>
<rect x="1469" y="74.4" width="3" height="1.3" fill="#a80000"/>
<rect x="1469" y="113.1" width="7.6" height="1.3" fill="#a80000"/>
<rect x="1469" y="151.7" width="3" height="1.3" fill="#a80000"/>
<rect x="1469" y="190.4" width="7.6" height="1.3" fill="#a80000"/>
<rect x="1469" y="229.1" width="3" height="1.3" fill="#a80000"/>
<rect x="1469" y="267.8" width="7.6" height="1.3" fill="#a80000"/>
<rect x="1469" y="306.5" width="3" height="1.3" fill="#a80000"/>
<rect x="1469" y="345.1" width="7.6" height="1.3" fill="#a80000"/>
<rect x="1469" y="383.8" width="3" height="1.3" fill="#a80000"/>
<rect x="1469" y="422.5" width="7.6" height="1.3" fill="#a80000"/>
<rect x="1469" y="461.2" width="3" height="1.3" fill="#a80000"/>
<rect x="1469" y="499.9" width="7.6" height="1.3" fill="#a80000"/>
<rect x="1469" y="589.8" width="7.6" height="1.3" fill="#a80000"/>
<rect x="1469" y="610.8" width="3" height="1.3" fill="#a80000"/>
<rect x="1469" y="630.4" width="7.6" height="1.3" fill="#a80000"/>
<rect x="1469" y="651.4" width="3" height="1.3" fill="#a80000"/>
<rect x="1469" y="670.7" width="7.6" height="1.3" fill="#a80000"/>
<rect x="1469" y="691.8" width="22" height="2" fill="#b00000"/>
<rect x="1489.6" y="586.5" width="1.4" height="2" fill="#e03030"/><rect x="1489.6" y="627" width="1.4" height="2" fill="#e03030"/>
</g>
<path d="M1435.5,18 l8.5,8.5 l-8.5,8.5 l-8.5,-8.5 z" fill="none" stroke="#b00000" stroke-width="1.3"/>
<g shape-rendering="crispEdges"><rect x="1449.5" y="18.5" width="15" height="16" fill="none" stroke="#b00000" stroke-width="1.4"/><rect x="1458.5" y="18" width="1.4" height="16" fill="#b00000"/></g>
<path d="M2,450 L14.5,466 L14.5,512 L2,530 z" fill="#404040" fill-opacity="0.88" stroke="#6a6a6a" stroke-width="1"/>
<path d="M3.5,482 L11,489 L3.5,496.5 z" fill="#e8a000"/>
</svg>
<svg width="1491" height="893" viewBox="0 0 1491 893" style="position:absolute;left:0;top:0;will-change:transform">
<text x="2 20 38 56" y="31.5" fill="#c8c8c8" font-family="Liberation Sans, Noto Sans CJK SC, sans-serif" font-size="19.6px">创业板指</text>
<text x="80 98" y="31.5" fill="#c8c8c8" font-family="Liberation Sans, Noto Sans CJK SC, sans-serif" font-size="19.6px">日线</text>
<text x="121 139 157" y="31.5" fill="#c8c8c8" font-family="Liberation Sans, Noto Sans CJK SC, sans-serif" font-size="19.6px">前复权</text>
<text transform="translate(75.25,31.7) scale(0.8615,1)" fill="#c8c8c8" font-family="Liberation Sans, sans-serif" font-size="19.7px" stroke="#000" stroke-width="0.3" style="font-kerning:none">(</text>
<text transform="translate(116.47,29.6) scale(0.8530,1)" fill="#c8c8c8" font-family="Liberation Sans, sans-serif" font-size="19.7px" stroke="#000" stroke-width="0.3" style="font-kerning:none">.</text>
<text transform="translate(176.20,31.7) scale(0.8615,1)" fill="#c8c8c8" font-family="Liberation Sans, sans-serif" font-size="19.7px" stroke="#000" stroke-width="0.3" style="font-kerning:none">)</text>
<path d="M199,16.5 l7.7,9.5 h-4.4 v6.6 h-6.6 v-6.6 h-4.4 z" fill="#ff0000"/>
<text transform="translate(210.28,31.7) scale(0.8763,1)" fill="#f4f4f4" font-family="Liberation Sans, sans-serif" font-size="19.7px" stroke="#000" stroke-width="0.3" style="font-kerning:none">MA5:</text>
<text transform="translate(254.81,31.7) scale(0.9240,1)" fill="#f4f4f4" font-family="Liberation Sans, sans-serif" font-size="19.7px" stroke="#000" stroke-width="0.3" style="font-kerning:none">1562.50</text>
<text transform="translate(329.44,31.7) scale(0.8445,1)" fill="#ffff00" font-family="Liberation Sans, sans-serif" font-size="19.7px" stroke="#000" stroke-width="0.3" style="font-kerning:none">MA10:</text>
<text transform="translate(383.01,31.7) scale(0.9267,1)" fill="#ffff00" font-family="Liberation Sans, sans-serif" font-size="19.7px" stroke="#000" stroke-width="0.3" style="font-kerning:none">1559.56</text>
<text transform="translate(457.88,31.7) scale(0.8763,1)" fill="#ff00ff" font-family="Liberation Sans, sans-serif" font-size="19.7px" stroke="#000" stroke-width="0.3" style="font-kerning:none">MA20:</text>
<text transform="translate(512.41,31.7) scale(0.9270,1)" fill="#ff00ff" font-family="Liberation Sans, sans-serif" font-size="19.7px" stroke="#000" stroke-width="0.3" style="font-kerning:none">1544.07</text>
<text transform="translate(586.97,31.7) scale(0.8840,1)" fill="#00ff00" font-family="Liberation Sans, sans-serif" font-size="19.7px" stroke="#000" stroke-width="0.3" style="font-kerning:none">MA250:</text>
<text transform="translate(651.65,31.7) scale(0.9018,1)" fill="#00ff00" font-family="Liberation Sans, sans-serif" font-size="19.7px" stroke="#000" stroke-width="0.3" style="font-kerning:none">1454.41</text>
<text transform="translate(2.42,558.2) scale(0.8792,1)" fill="#f4f4f4" font-family="Liberation Sans, sans-serif" font-size="19.7px" stroke="#000" stroke-width="0.3" style="font-kerning:none">VOLUME:</text>
<text transform="translate(84.75,558.2) scale(0.9456,1)" fill="#f4f4f4" font-family="Liberation Sans, sans-serif" font-size="19.7px" stroke="#000" stroke-width="0.3" style="font-kerning:none">55998768.00</text>
<text transform="translate(201.50,558.2) scale(0.8669,1)" fill="#f4f4f4" font-family="Liberation Sans, sans-serif" font-size="19.7px" stroke="#000" stroke-width="0.3" style="font-kerning:none">MA5:</text>
<text transform="translate(245.55,558.2) scale(0.9464,1)" fill="#f4f4f4" font-family="Liberation Sans, sans-serif" font-size="19.7px" stroke="#000" stroke-width="0.3" style="font-kerning:none">55342788.00</text>
<text transform="translate(361.65,558.2) scale(0.8950,1)" fill="#ffff00" font-family="Liberation Sans, sans-serif" font-size="19.7px" stroke="#000" stroke-width="0.3" style="font-kerning:none">MA10:</text>
<text transform="translate(416.25,558.2) scale(0.9456,1)" fill="#ffff00" font-family="Liberation Sans, sans-serif" font-size="19.7px" stroke="#000" stroke-width="0.3" style="font-kerning:none">54538416.00</text>
<text transform="translate(1.59,733.9) scale(0.9341,1)" fill="#c8c8c8" font-family="Liberation Sans, sans-serif" font-size="19.7px" stroke="#000" stroke-width="0.3" style="font-kerning:none">KDJ(9,3,3)</text>
<text transform="translate(95.98,733.9) scale(1.0659,1)" fill="#c8c8c8" font-family="Liberation Sans, sans-serif" font-size="19.7px" stroke="#000" stroke-width="0.3" style="font-kerning:none">K:</text>
<text transform="translate(118.48,733.9) scale(0.9257,1)" fill="#f4f4f4" font-family="Liberation Sans, sans-serif" font-size="19.7px" stroke="#000" stroke-width="0.3" style="font-kerning:none">46.72</text>
<text transform="translate(171.50,733.9) scale(0.9272,1)" fill="#ffff00" font-family="Liberation Sans, sans-serif" font-size="19.7px" stroke="#000" stroke-width="0.3" style="font-kerning:none">D:</text>
<text transform="translate(194.49,733.9) scale(0.9074,1)" fill="#ffff00" font-family="Liberation Sans, sans-serif" font-size="19.7px" stroke="#000" stroke-width="0.3" style="font-kerning:none">66.34</text>
<text transform="translate(247.52,733.9) scale(0.9155,1)" fill="#ff00ff" font-family="Liberation Sans, sans-serif" font-size="19.7px" stroke="#000" stroke-width="0.3" style="font-kerning:none">J:</text>
<text transform="translate(266.27,733.9) scale(0.9190,1)" fill="#ff00ff" font-family="Liberation Sans, sans-serif" font-size="19.7px" stroke="#000" stroke-width="0.3" style="font-kerning:none">7.50</text>
<text transform="translate(294.63,520.7) scale(0.9106,1)" fill="#c8c8c8" font-family="Liberation Sans, sans-serif" font-size="19.7px" stroke="#000" stroke-width="0.3" style="font-kerning:none">1184.91</text>
<path d="M276.5,512.5 H292.5 M276.5,512.5 l4,-3 M276.5,512.5 l4,3" stroke="#c8c8c8" stroke-width="1.2" fill="none"/>
<text transform="translate(978.79,57) scale(0.9398,1)" fill="#c8c8c8" font-family="Liberation Sans, sans-serif" font-size="19.7px" stroke="#000" stroke-width="0.3" style="font-kerning:none">1792.03</text>
<path d="M958,46 L958,41 L963.5,41 M958,43.5 L975.5,49" stroke="#c8c8c8" stroke-width="1.2" fill="none"/>
<text transform="translate(1245.59,319.9) scale(0.9364,1)" fill="#c8c8c8" font-family="Liberation Sans, sans-serif" font-size="19.7px" stroke="#000" stroke-width="0.3" style="font-kerning:none">1460.19</text>
<text transform="translate(1316.93,319.9) scale(0.9980,1)" fill="#c8c8c8" font-family="Liberation Sans, sans-serif" font-size="19.7px" stroke="#000" stroke-width="0.3" style="font-kerning:none">-</text>
<text transform="translate(1328.18,319.9) scale(0.9444,1)" fill="#c8c8c8" font-family="Liberation Sans, sans-serif" font-size="19.7px" stroke="#000" stroke-width="0.3" style="font-kerning:none">1463.82</text>
<text transform="translate(1471.3,710.2) scale(0.86,1)" fill="#ff3232" font-family="Liberation Sans, sans-serif" font-size="18.8px">X10</text>
<text transform="translate(1483.3,770) scale(0.9,1)" fill="#ff3232" font-family="Liberation Sans, sans-serif" font-size="18.8px">100</text>
</svg>
<div id="topbar"></div><div id="leftbar"></div>

<div style="position:absolute;left:3px;top:0;width:24px;height:3px;background:#fcfcfc"></div>
<svg width="1491" height="12" style="position:absolute;left:0;top:0" shape-rendering="crispEdges">
<g stroke="#202020" stroke-width="2" stroke-dasharray="3 2 2 3 4 2">
<line x1="42" y1="0.5" x2="77" y2="0.5"/><line x1="111" y1="0.5" x2="141" y2="0.5"/><line x1="172" y1="0.5" x2="206" y2="0.5"/>
<line x1="237" y1="0.5" x2="268" y2="0.5"/><line x1="294" y1="0.5" x2="363" y2="0.5"/><line x1="385" y1="0.5" x2="421" y2="0.5"/>
<line x1="450" y1="0.5" x2="485" y2="0.5"/><line x1="516" y1="0.5" x2="549" y2="0.5"/>
<line x1="990" y1="0.8" x2="1107" y2="0.8"/><line x1="1134" y1="0.8" x2="1204" y2="0.8"/></g>
<g fill="#c6c6c6"><rect x="28" y="0" width="1" height="9"/><rect x="93" y="0" width="1" height="9"/><rect x="157" y="0" width="1" height="9"/><rect x="222" y="0" width="1" height="9"/><rect x="286" y="0" width="1" height="9"/><rect x="372" y="0" width="1" height="9"/><rect x="436" y="0" width="1" height="9"/><rect x="500" y="0" width="1" height="9"/></g>
<rect x="581" y="0" width="57" height="9" fill="#e2e2e2"/><rect x="581" y="0" width="1" height="9" fill="#fafafa"/><rect x="637" y="0" width="1.5" height="9" fill="#a4a4a4"/>
<rect x="648" y="0" width="57" height="9" fill="#e2e2e2"/><rect x="648" y="0" width="1" height="9" fill="#fafafa"/><rect x="704.5" y="0" width="1.5" height="9" fill="#a4a4a4"/>
<g stroke="#ff1010" stroke-width="2" stroke-dasharray="3 2 2 3 4 2"><line x1="591" y1="0.5" x2="627" y2="0.5"/><line x1="660" y1="0.5" x2="694" y2="0.5"/></g>
</svg>

</div></body></html>
